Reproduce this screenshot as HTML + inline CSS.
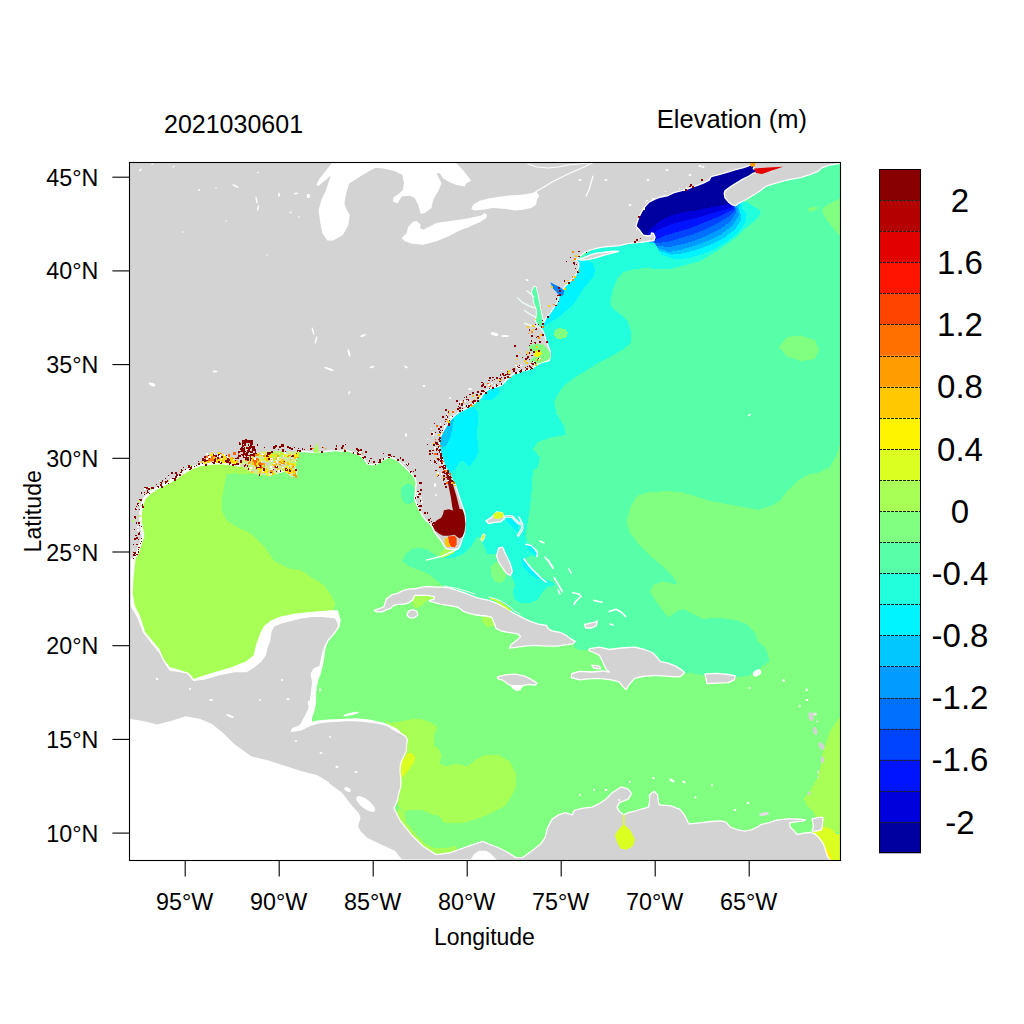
<!DOCTYPE html>
<html><head><meta charset="utf-8"><style>
html,body{margin:0;padding:0;background:#fff;width:1024px;height:1024px;overflow:hidden;font-family:"Liberation Sans",sans-serif;}
svg{display:block;}
</style></head><body>
<svg width="1024" height="1024" viewBox="0 0 1024 1024">
<defs><clipPath id="fr"><rect x="129" y="162" width="711" height="698"/></clipPath></defs>
<rect width="1024" height="1024" fill="#fff"/>
<g clip-path="url(#fr)" shape-rendering="crispEdges">
<rect x="129" y="162" width="711" height="698" fill="#56ffa8"/>
<polygon points="452.0,548.0 439.8,557.8 435.7,555.0 427.5,549.6 419.3,547.5 411.1,549.6 405.6,553.7 402.2,560.5 408.4,566.0 419.3,570.1 428.9,574.2 435.7,579.6 441.2,585.1 480.0,600.0 540.0,625.0 575.3,641.3 573.9,647.4 579.4,650.2 586.2,650.2 589.8,648.6 640.0,660.0 684.5,672.6 693.3,673.4 701.1,674.9 705.0,675.3 735.0,677.0 740.2,676.9 748.0,675.9 755.8,672.0 763.6,665.2 769.5,661.3 767.5,653.4 763.6,645.6 757.8,642.0 754.3,631.7 747.3,624.6 735.6,620.0 719.1,617.6 702.7,618.8 693.4,614.1 684.0,609.4 677.0,610.6 668.8,617.6 662.9,610.6 655.9,601.2 650.0,591.8 653.5,584.8 662.9,581.3 672.3,583.6 678.1,584.8 672.3,575.4 662.9,566.0 651.2,556.7 639.5,545.0 630.1,533.2 626.6,521.5 630.1,507.5 637.1,495.7 648.8,492.2 667.6,491.1 681.7,492.2 693.4,495.7 707.4,500.4 726.2,503.9 744.9,507.5 759.0,509.8 773.0,505.1 780.1,500.4 787.1,491.1 796.5,481.7 808.2,474.7 819.9,472.3 829.3,467.6 836.3,455.9 840.0,444.0 850.0,440.0 850.0,870.0 120.0,870.0 120.0,440.0 414.0,440.0 420.0,480.0 430.0,510.0 440.0,530.0" fill="#80ff80"/>
<polygon points="743.9,201.4 747.5,202.3 752.7,205.8 759.8,210.2 760.6,213.7 756.2,219.9 749.2,225.2 742.2,231.3 735.2,238.3 726.4,244.5 717.6,250.6 708.8,255.9 700.0,261.2 686.0,265.0 672.0,268.5 660.0,269.2 645.5,268.0 633.8,269.2 624.4,271.6 617.3,278.6 612.7,290.3 610.3,302.0 612.0,308.0 620.0,314.0 627.7,321.7 631.2,332.0 631.2,342.8 622.0,350.0 610.1,356.9 598.0,363.0 585.5,371.0 574.0,378.0 564.4,385.0 558.0,394.0 554.1,402.0 556.5,413.7 563.5,425.4 565.9,434.8 551.8,437.2 537.7,441.8 533.0,448.9 540.1,458.2 537.7,467.6 532.8,470.0 531.8,489.5 529.8,509.1 527.9,520.8 525.9,534.5 526.9,542.3 533.8,546.2 537.7,552.0 536.7,556.9 529.8,555.9 524.0,558.9 525.9,563.8 533.8,571.6 543.5,578.4 553.3,582.3 555.2,585.2 547.4,587.2 541.6,593.0 537.7,599.9 529.8,602.8 520.1,602.8 514.2,598.9 513.2,591.1 515.2,585.2 512.3,577.4 510.3,571.6 506.4,565.7 502.5,557.9 498.6,554.0 486.9,554.0 484.9,548.1 481.0,538.4 477.1,536.4 471.3,546.2 463.4,554.0 453.7,557.9 443.9,557.9 452.0,548.0 455.0,520.0 445.0,480.0 432.0,450.0 430.0,430.0 470.0,395.0 520.0,365.0 532.0,335.0 550.0,300.0 565.0,275.0 575.0,262.0 600.0,245.0 640.0,236.0 640.0,150.0 745.0,150.0" fill="#22ffdc"/>
<polygon points="120.0,445.0 258.0,445.0 258.0,474.0 249.0,474.0 234.5,473.4 226.3,474.0 225.1,481.0 222.8,492.7 221.6,504.5 222.8,513.8 227.4,520.9 234.5,525.5 241.5,529.1 249.0,532.6 253.2,535.6 264.9,547.3 274.3,561.4 288.4,568.4 302.4,570.7 311.8,577.8 323.5,584.8 330.5,594.2 335.2,603.5 332.9,610.6 330.0,614.0 300.0,640.0 260.0,680.0 120.0,700.0" fill="#a8ff56"/>
<polygon points="385.0,720.0 390.1,722.9 399.5,721.7 411.2,719.3 416.2,719.0 423.0,719.5 429.8,722.5 435.7,725.4 437.7,729.3 434.7,732.2 433.8,739.1 433.8,745.9 437.7,747.9 441.7,754.5 439.3,763.9 446.3,766.2 455.7,763.9 467.4,766.2 476.8,759.2 486.2,754.5 497.9,754.5 509.6,761.5 515.5,773.2 515.5,787.3 513.7,792.0 509.6,799.0 504.7,805.9 500.2,808.4 493.5,812.0 486.2,815.4 479.4,818.1 472.1,820.1 462.8,823.1 458.1,822.5 446.2,823.1 444.0,822.5 437.9,814.8 434.6,815.4 421.3,809.8 408.8,809.6 404.2,813.1 398.0,805.0 396.0,790.0 398.0,770.0 400.0,745.0" fill="#a8ff56"/>
<polygon points="398.0,808.0 404.2,813.1 406.5,822.5 415.9,834.2 425.2,843.5 434.6,848.2 446.3,848.2 455.7,845.9 458.0,852.0 440.0,860.0 420.0,852.0 405.0,838.0 396.0,820.0" fill="#a8ff56"/>
<polygon points="840.0,717.4 835.7,722.9 830.2,731.1 827.5,739.3 824.8,747.5 822.0,755.7 820.3,768.2 817.6,776.4 813.5,784.6 809.4,791.4 803.9,798.3 806.6,805.1 813.5,812.0 814.8,816.1 818.0,820.0 822.0,828.0 850.0,836.0 850.0,718.0" fill="#a8ff56"/>
<polygon points="414.5,595.4 434.3,596.7 434.3,598.8 427.5,600.2 422.0,605.6 416.6,608.4 413.8,607.0 412.5,601.5" fill="#a8ff56"/>
<polygon points="481.6,617.3 489.1,616.0 493.2,620.1 493.9,625.5 487.8,626.9 483.0,622.8" fill="#a8ff56"/>
<polygon points="445.0,548.0 452.0,549.0 458.0,549.0 452.0,554.0 446.0,557.0 441.0,558.0 440.0,554.0" fill="#a8ff56"/>
<polygon points="407.4,752.7 413.2,753.7 415.2,757.6 413.2,763.5 408.4,770.3 403.5,776.2 400.5,778.1 400.5,768.4 402.5,760.5" fill="#dcff22"/>
<polygon points="810.7,833.8 817.6,829.7 823.1,827.0 829.9,828.4 836.7,833.8 850.0,837.0 850.0,870.0 829.9,870.0 825.8,850.2 823.1,843.4 816.2,836.6" fill="#dcff22"/>
<polygon points="824.4,847.5 828.5,850.2 831.3,855.7 832.6,862.0 827.2,862.0 825.1,854.3" fill="#fff400"/>
<polygon points="401.5,488.0 406.0,483.5 411.0,483.5 414.0,488.0 414.0,500.0 412.0,503.0 407.0,504.0 403.0,502.0 401.0,495.0" fill="#56ffa8"/>
<polygon points="555.0,329.2 559.7,328.0 565.5,329.2 567.9,332.7 566.7,337.4 562.0,338.6 557.3,339.2 554.4,336.3 554.4,332.7" fill="#80ff80"/>
<polygon points="490.8,565.7 496.6,561.8 502.5,563.8 506.4,571.6 505.4,579.4 500.5,583.3 494.7,581.3 490.8,573.5" fill="#80ff80"/>
<polygon points="839.3,198.7 828.7,203.9 821.7,209.2 825.2,218.0 832.3,226.8 837.5,233.8 841.0,236.0 841.0,198.0" fill="#80ff80"/>
<polygon points="808.0,208.0 814.0,206.5 820.0,207.0 815.0,210.5 809.0,212.0" fill="#80ff80"/>
<polygon points="779.0,347.0 787.0,337.0 801.0,335.4 815.0,340.0 819.0,349.5 815.0,359.0 801.0,361.0 787.0,356.5" fill="#80ff80"/>
<polygon points="576.0,259.0 578.7,259.8 586.9,261.0 592.7,263.4 595.1,269.2 593.9,276.3 589.5,281.5 583.4,288.0 579.6,295.2 573.8,303.4 566.7,310.5 559.7,316.3 552.7,321.0 545.6,325.7 543.3,326.9 535.0,310.0 560.0,280.0" fill="#00f4ff"/>
<polygon points="454.0,416.3 466.9,409.3 473.9,407.0 477.4,410.5 478.6,417.5 477.4,426.9 477.4,438.6 478.6,450.3 476.3,457.3 469.2,466.7 463.4,460.9 459.8,462.0 455.2,469.1 449.3,473.8 440.0,470.0 435.0,440.0 445.0,420.0" fill="#00f4ff"/>
<polygon points="482.0,400.0 484.7,392.5 489.4,389.0 495.2,386.6 498.8,387.8 498.5,394.0 494.0,398.0 490.0,400.5" fill="#00f4ff"/>
<polygon points="504.5,516.9 514.2,518.8 518.1,524.7 518.1,532.5 512.3,526.6 506.4,520.8" fill="#00f4ff"/>
<polygon points="525.9,544.2 533.8,546.2 537.7,552.0 536.7,555.9 531.8,552.0 527.9,548.1" fill="#00f4ff"/>
<polygon points="521.1,557.9 525.9,559.8 531.8,567.7 537.7,573.5 543.5,579.4 537.7,579.4 529.8,573.5 524.0,567.7" fill="#00f4ff"/>
<polygon points="454.0,418.7 452.8,426.9 450.5,436.3 447.0,444.5 442.3,448.0 439.9,442.1 441.1,433.9 444.6,426.9 449.3,421.0" fill="#00c8ff"/>
<polygon points="655.0,244.0 661.6,254.6 674.3,259.0 688.2,258.4 700.9,254.6 713.6,249.5 726.3,241.9 737.8,233.0 745.4,222.9 746.6,214.0 741.6,207.6 742.0,199.0 750.0,186.0 762.0,176.0 772.0,172.5 775.0,171.0 775.0,150.0 630.0,150.0 630.0,236.0 645.0,242.0" fill="#00f4ff"/>
<polygon points="654.5,243.0 659.0,250.8 671.7,254.6 684.4,253.3 697.1,249.5 711.1,244.4 723.8,238.1 735.2,229.2 741.6,219.0 739.0,207.6 742.0,199.0 750.0,186.0 762.0,176.0 772.0,172.5 775.0,171.0 775.0,150.0 630.0,150.0 630.0,236.0 645.0,242.0" fill="#00c8ff"/>
<polygon points="654.0,242.0 657.8,248.2 669.2,252.1 681.9,249.5 694.6,245.7 708.6,240.6 721.2,234.3 732.7,225.4 739.0,215.2 737.0,206.0 742.0,199.0 750.0,186.0 762.0,176.0 772.0,172.5 775.0,171.0 775.0,150.0 630.0,150.0 630.0,236.0 645.0,242.0" fill="#009cff"/>
<polygon points="653.5,241.5 656.5,245.7 669.2,247.0 681.9,244.4 694.6,240.6 707.3,235.5 720.0,229.2 730.1,221.6 736.5,212.7 735.0,205.5 742.0,199.0 750.0,186.0 762.0,176.0 772.0,172.5 775.0,171.0 775.0,150.0 630.0,150.0 630.0,236.0 645.0,242.0" fill="#0070ff"/>
<polygon points="653.0,240.5 655.2,243.2 667.9,241.9 680.6,238.1 693.3,234.3 706.0,229.2 718.7,222.9 728.9,216.5 735.2,210.2 734.0,205.0 742.0,199.0 750.0,186.0 762.0,176.0 772.0,172.5 775.0,171.0 775.0,150.0 630.0,150.0 630.0,236.0 645.0,242.0" fill="#0044ff"/>
<polygon points="652.5,239.0 654.0,240.6 665.4,235.5 678.1,231.7 690.8,227.9 703.5,222.9 716.2,217.8 726.3,212.7 733.9,208.9 733.0,204.5 742.0,199.0 750.0,186.0 762.0,176.0 772.0,172.5 775.0,171.0 775.0,150.0 630.0,150.0 630.0,236.0 645.0,242.0" fill="#0014ff"/>
<polygon points="651.4,235.5 659.0,229.2 671.7,224.1 684.4,220.9 697.1,217.8 709.8,214.0 722.5,210.2 731.4,207.6 732.0,204.0 742.0,199.0 750.0,186.0 762.0,176.0 772.0,172.5 775.0,171.0 775.0,150.0 630.0,150.0 630.0,236.0 645.0,242.0" fill="#0000dc"/>
<polygon points="648.9,230.5 659.0,221.6 671.7,215.2 684.4,212.1 697.1,210.2 709.8,207.6 722.5,205.1 730.1,203.8 742.0,199.0 750.0,186.0 762.0,176.0 772.0,172.5 775.0,171.0 775.0,150.0 630.0,150.0 630.0,236.0 645.0,242.0" fill="#0000a0"/>
</g>
<g clip-path="url(#fr)">
<polygon points="120.0,719.3 129.0,719.3 143.1,721.7 157.1,725.2 171.2,721.7 185.2,717.0 199.3,719.3 211.0,724.0 222.7,733.4 234.5,745.1 250.9,756.8 269.6,761.5 283.7,766.2 302.4,772.1 316.5,775.6 328.2,782.6 330.0,784.9 341.6,793.2 351.6,806.5 358.2,813.1 359.9,818.1 357.4,826.4 359.9,831.4 366.5,838.0 379.8,844.7 394.7,851.3 401.4,860.0 471.1,860.0 474.4,854.6 479.4,851.3 486.0,851.3 491.0,854.6 496.0,860.0 496.0,870.0 120.0,870.0" fill="#fff"/>
<polygon points="136.0,556.0 134.9,564.6 133.4,579.3 132.7,593.9 134.9,605.7 140.7,617.4 145.1,632.0 152.4,640.8 159.8,649.6 162.7,658.4 170.0,667.2 180.3,670.1 190.5,674.5 193.5,678.9 202.2,676.0 216.9,671.6 231.5,667.2 246.2,661.3 253.5,655.5 256.4,643.7 260.8,632.0 264.1,626.0 270.9,620.5 280.5,616.4 294.2,613.7 307.9,612.3 321.5,610.9 332.5,610.3 337.9,610.3 340.7,620.5 339.3,627.3 333.8,634.2 328.4,641.0 325.6,647.9 324.3,657.4 322.9,665.6 320.2,675.2 317.4,682.0 316.1,690.2 316.1,701.2 314.7,709.4 312.0,717.6 312.0,721.7 318.8,720.3 328.4,719.6 342.0,719.0 355.7,718.3 369.4,719.6 383.0,722.4 388.5,724.4 396.7,728.5 400.0,731.3 400.0,760.0 120.0,760.0 120.0,556.0" fill="#fff"/>
<polygon points="120.0,150.0 754.9,150.0 754.9,162.1 753.2,163.5 747.9,166.2 742.6,167.9 735.6,169.7 726.8,172.3 718.0,174.9 711.0,176.7 709.1,180.1 703.2,183.1 697.4,185.3 691.5,187.5 685.7,189.6 679.8,191.1 673.9,192.6 668.1,195.5 660.8,197.0 654.9,199.2 649.0,202.1 644.6,207.2 641.7,211.6 638.8,217.5 637.3,221.9 635.9,226.3 638.8,229.2 643.2,235.1 648.0,236.0 651.0,235.5 651.5,233.0 653.5,233.5 655.0,237.0 654.0,240.5 650.0,241.0 645.5,241.7 640.8,242.3 633.8,242.9 629.1,243.4 624.4,244.4 619.8,245.6 613.9,246.2 608.1,246.5 602.2,247.1 596.4,248.3 590.5,250.0 584.6,252.4 580.0,255.9 577.5,258.5 576.3,260.4 578.7,262.2 578.7,266.9 577.5,271.6 575.2,276.3 571.6,279.8 568.1,283.3 564.6,286.8 562.3,290.3 560.5,292.7 558.8,297.3 557.6,302.0 555.0,305.8 550.3,312.8 545.6,318.7 543.3,323.4 542.1,326.9 540.9,328.0 543.3,331.6 545.6,338.6 548.0,345.6 550.3,351.5 550.3,357.3 549.1,360.9 543.3,362.0 537.4,364.4 532.7,367.9 526.9,370.2 519.8,371.4 514.0,373.8 509.3,377.3 504.6,382.0 501.1,385.5 497.6,386.6 491.7,387.8 487.0,390.2 483.5,393.7 481.2,397.2 478.6,399.9 472.7,404.6 466.9,408.1 459.8,411.6 454.0,416.3 449.3,421.0 445.8,426.9 442.3,432.7 439.9,438.6 439.3,444.5 439.9,450.3 441.7,456.2 443.4,462.0 445.8,467.9 449.3,473.8 452.8,480.8 455.7,485.9 458.6,494.6 461.5,503.4 464.5,512.2 465.4,519.1 464.9,526.9 464.5,532.7 462.5,538.6 460.5,544.5 458.6,548.4 454.7,549.3 448.8,549.3 445.9,548.4 443.9,545.4 441.0,540.5 437.1,535.7 434.2,531.8 432.2,526.9 429.3,523.0 426.4,521.0 423.4,517.1 420.5,512.2 417.6,506.4 415.6,501.5 414.6,497.6 415.6,492.7 415.6,487.8 416.2,483.5 415.2,478.6 412.3,474.7 408.4,470.8 404.5,466.9 400.5,463.0 396.6,460.0 392.7,458.1 388.8,457.1 384.9,459.1 381.0,461.0 377.1,463.9 372.2,464.9 367.3,463.9 365.4,461.0 362.5,457.1 357.6,454.2 351.7,452.2 345.9,450.3 340.0,451.3 336.7,450.4 325.9,451.5 315.2,452.6 304.5,451.5 298.0,451.5 298.0,453.6 295.9,460.1 293.7,465.5 296.9,470.8 295.9,475.1 291.6,476.2 285.1,470.8 277.6,473.0 267.9,475.1 259.3,472.0 255.0,467.0 249.0,465.0 240.0,465.5 234.5,464.6 222.8,462.9 211.0,463.4 201.7,464.6 193.5,467.0 185.3,471.6 178.2,476.3 171.2,481.0 164.2,484.5 157.1,488.0 150.1,492.7 144.2,498.6 141.9,505.6 140.7,512.7 140.7,522.0 141.9,529.1 143.1,536.1 140.7,543.1 138.4,550.2 136.0,556.0 131.2,560.0 131.2,579.3 131.2,605.7 137.8,617.4 143.6,632.0 152.4,643.7 159.8,652.5 164.2,661.3 170.0,670.1 180.3,671.6 187.6,673.0 193.5,680.4 205.2,678.9 219.8,674.5 234.5,671.6 246.2,671.6 253.5,667.2 260.8,661.3 265.5,654.7 266.8,647.9 269.6,641.0 270.9,631.4 273.7,626.0 280.5,623.2 290.1,620.5 301.0,617.8 312.0,616.4 321.5,616.4 329.7,617.1 335.2,617.8 337.9,621.9 338.6,626.0 336.6,630.1 332.5,635.5 328.4,639.6 325.6,645.1 322.9,652.0 321.5,658.8 320.2,665.6 318.8,672.5 317.4,680.7 316.1,687.5 314.7,695.7 313.3,703.9 312.0,712.1 307.9,717.6 303.8,721.7 299.6,725.8 292.8,728.5 291.4,731.3 301.0,729.9 309.2,725.8 317.4,723.1 328.4,721.7 339.3,721.0 348.9,720.3 362.5,721.0 374.2,722.5 383.9,724.4 388.8,726.4 394.7,730.3 400.5,733.2 405.4,736.1 407.4,740.0 406.4,744.9 406.4,750.8 404.5,754.7 402.5,758.6 400.5,764.5 400.0,770.3 400.5,776.2 401.0,782.0 400.5,787.9 398.6,793.8 397.6,800.0 393.9,808.1 399.7,819.8 411.3,834.7 423.0,846.3 436.2,854.6 449.5,853.0 467.8,846.3 482.7,841.3 489.0,844.1 498.0,847.5 507.0,852.0 515.9,857.6 522.7,857.6 531.7,850.9 540.6,844.1 545.1,837.4 547.4,828.4 551.9,819.4 558.6,814.9 565.4,812.7 572.1,814.9 574.3,810.4 583.3,808.2 592.3,807.1 599.0,803.7 605.8,799.2 612.5,792.5 621.5,786.8 628.2,789.1 631.6,793.6 628.2,799.2 619.3,802.6 617.0,807.1 619.3,811.6 623.8,814.9 628.2,812.7 637.2,810.4 648.5,807.1 649.6,801.4 649.6,794.7 654.1,791.3 657.5,794.7 658.6,803.7 659.7,804.8 670.9,805.9 679.9,809.3 684.4,814.9 688.9,823.9 700.1,822.8 710.9,821.5 720.5,820.8 726.0,822.2 730.1,827.0 736.9,829.7 745.1,831.1 752.0,829.7 757.4,827.0 761.5,824.3 768.4,822.9 776.6,820.2 787.5,818.8 795.7,818.8 805.3,819.7 803.9,820.8 795.7,821.8 789.6,822.9 790.2,827.0 794.3,831.1 797.1,834.5 803.9,833.1 810.7,832.5 814.8,833.8 819.0,837.9 823.1,843.4 825.1,848.9 827.2,855.7 829.9,860.0 830.0,870.0 496.0,870.0 496.0,860.0 491.0,854.6 486.0,851.3 479.4,851.3 474.4,854.6 471.1,860.0 401.4,860.0 394.7,851.3 379.8,844.7 366.5,838.0 359.9,831.4 357.4,826.4 359.9,818.1 358.2,813.1 351.6,806.5 341.6,793.2 330.0,784.9 328.2,782.6 316.5,775.6 302.4,772.1 283.7,766.2 269.6,761.5 250.9,756.8 234.5,745.1 222.7,733.4 211.0,724.0 199.3,719.3 185.2,717.0 171.2,721.7 157.1,725.2 143.1,721.7 129.0,719.3 120.0,719.3" fill="#d3d3d3" stroke="#fff" stroke-width="1.3" stroke-linejoin="round"/>
<polygon points="755.8,150.0 850.0,150.0 850.0,163.5 838.4,163.5 828.7,165.3 821.7,167.9 818.2,171.4 811.2,174.1 800.6,177.6 790.1,179.3 783.0,181.1 774.3,183.7 765.5,186.4 760.2,190.8 753.2,195.2 746.1,199.5 739.1,203.1 735.6,205.7 732.1,204.8 728.6,202.2 725.0,197.8 724.2,193.4 725.0,190.8 728.6,188.1 733.8,184.6 740.9,180.2 747.9,176.7 753.2,173.2 758.4,172.3 765.5,171.4 772.5,170.9 765.5,170.2 758.4,169.7 753.2,168.8 754.9,165.3 755.8,162.1" fill="#d3d3d3" stroke="#fff" stroke-width="1.3" stroke-linejoin="round"/>
<polygon points="578.8,259.6 584.6,257.3 590.5,254.9 596.4,253.2 602.2,252.6 606.3,252.0 611.0,251.4 615.7,251.1 618.6,251.4 614.5,252.6 609.8,253.7 605.1,254.9 599.3,256.7 593.4,258.4 587.6,259.6 581.7,260.2" fill="#d3d3d3" stroke="#fff" stroke-width="1.3" stroke-linejoin="round"/>
<polygon points="374.2,610.4 379.6,608.4 383.8,607.0 385.1,602.9 386.5,598.8 392.0,594.7 397.4,593.3 402.9,590.6 408.4,589.2 416.6,588.5 422.0,587.2 428.9,586.5 435.7,587.2 441.2,587.2 449.4,587.9 457.6,590.6 465.8,593.3 472.6,596.1 478.2,598.2 489.1,600.3 497.3,603.7 505.5,607.8 513.8,613.2 522.0,617.3 530.2,621.4 538.4,624.2 546.6,625.5 547.9,628.3 552.0,631.0 560.2,632.4 565.7,635.1 571.2,639.2 575.3,641.3 572.5,644.0 565.7,644.7 557.5,646.1 546.6,646.1 535.6,645.4 524.7,646.1 515.1,647.4 509.6,648.1 511.0,644.7 516.5,640.6 520.6,636.5 517.9,633.8 508.3,632.4 501.4,631.0 496.0,628.3 493.9,622.8 491.9,617.3 486.4,616.0 480.0,615.5 474.0,614.5 468.5,613.1 463.0,611.1 457.6,607.0 449.4,605.6 441.2,604.3 435.7,602.9 428.9,600.8 434.3,598.8 434.3,596.7 427.5,595.4 419.3,595.4 414.5,595.4 412.5,600.2 408.4,602.9 402.9,604.3 397.4,604.3 393.3,605.6 390.6,608.4 386.5,609.7 382.4,611.8 376.9,611.8" fill="#d3d3d3" stroke="#fff" stroke-width="1.3" stroke-linejoin="round"/>
<polygon points="408.4,611.1 412.5,609.7 416.6,611.1 417.9,615.2 413.8,617.9 409.7,617.9 407.0,615.2" fill="#d3d3d3" stroke="#fff" stroke-width="1.3" stroke-linejoin="round"/>
<polygon points="589.8,648.6 599.5,647.2 609.3,649.5 621.0,648.0 634.7,647.2 644.5,649.5 652.3,652.5 657.1,657.3 660.1,661.3 667.9,663.2 675.7,666.1 681.6,670.0 684.5,672.6 680.6,676.5 675.7,676.9 665.9,676.1 654.2,675.3 642.5,676.5 634.7,678.4 629.8,683.7 625.9,689.6 623.0,686.6 619.1,681.8 611.3,679.8 599.5,678.4 587.8,678.8 580.0,679.8 571.2,677.5 572.0,673.5 579.4,671.4 591.7,672.0 603.4,671.0 609.3,672.0 605.4,668.1 602.5,661.3 599.5,655.4 593.7,652.5 588.8,650.5" fill="#d3d3d3" stroke="#fff" stroke-width="1.3" stroke-linejoin="round"/>
<polygon points="591.7,665.2 599.5,666.1 600.5,669.1 593.7,668.1" fill="#d3d3d3" stroke="#fff" stroke-width="1.3" stroke-linejoin="round"/>
<polygon points="497.3,676.8 505.5,674.8 515.1,674.1 524.7,676.1 531.5,679.6 537.0,683.0 535.6,685.0 527.4,684.3 523.3,685.7 519.0,687.0 514.0,686.5 508.3,684.3 502.8,680.2 498.0,678.9" fill="#d3d3d3" stroke="#fff" stroke-width="1.3" stroke-linejoin="round"/>
<polygon points="705.0,673.9 716.7,673.4 728.4,674.5 735.3,675.9 734.3,679.8 728.4,682.7 716.7,683.1 707.0,683.7 706.0,678.8" fill="#d3d3d3" stroke="#fff" stroke-width="1.3" stroke-linejoin="round"/>
<polygon points="812.1,818.8 819.0,817.4 823.1,817.4 822.4,824.3 821.7,829.7 816.2,831.1 812.1,831.1 813.5,825.6" fill="#d3d3d3" stroke="#fff" stroke-width="1.3" stroke-linejoin="round"/>
<polygon points="498.6,548.1 502.5,547.1 506.4,555.9 510.3,563.8 512.3,571.6 510.3,575.5 506.4,573.5 502.5,567.7 498.6,561.8 496.6,555.9" fill="#d3d3d3" stroke="#fff" stroke-width="1.3" stroke-linejoin="round"/>
<polygon points="485.9,520.8 490.8,517.9 496.6,512.0 502.5,513.0 504.5,518.8 500.5,521.8 492.7,522.7 488.8,523.7" fill="#d3d3d3" stroke="#fff" stroke-width="1.3" stroke-linejoin="round"/>
<polygon points="584.5,624.5 589.2,623.3 595.1,622.1 597.4,620.9 596.3,625.6 591.6,628.0 585.7,628.0" fill="#d3d3d3" stroke="#fff" stroke-width="1.3" stroke-linejoin="round"/>
<polygon points="510.0,685.0 524.0,685.0 520.0,690.5 516.0,691.0 512.0,688.0" fill="#fff"/>
<polyline points="525.9,544.2 531.0,545.5 535.0,549.0 537.5,553.0 537.0,556.5" fill="none" stroke="#fff" stroke-width="1.6" stroke-linejoin="round" stroke-linecap="round"/>
<polyline points="524.0,559.0 527.0,563.0 531.0,568.0 536.0,573.0 541.0,578.0 546.0,582.0" fill="none" stroke="#fff" stroke-width="1.6" stroke-linejoin="round" stroke-linecap="round"/>
<polyline points="545.0,557.0 549.0,562.0 553.0,568.0" fill="none" stroke="#fff" stroke-width="1.6" stroke-linejoin="round" stroke-linecap="round"/>
<polyline points="554.1,577.6 558.0,584.0 562.3,591.6" fill="none" stroke="#fff" stroke-width="1.6" stroke-linejoin="round" stroke-linecap="round"/>
<polyline points="572.8,592.8 579.0,594.0 581.0,596.5 576.0,601.0 574.0,604.5" fill="none" stroke="#fff" stroke-width="1.6" stroke-linejoin="round" stroke-linecap="round"/>
<polyline points="593.9,600.4 602.1,602.2" fill="none" stroke="#fff" stroke-width="1.6" stroke-linejoin="round" stroke-linecap="round"/>
<polyline points="609.1,611.6 616.2,609.2 622.0,612.7 625.5,616.5" fill="none" stroke="#fff" stroke-width="1.6" stroke-linejoin="round" stroke-linecap="round"/>
<polyline points="548.2,560.0 552.9,568.2" fill="none" stroke="#fff" stroke-width="1.6" stroke-linejoin="round" stroke-linecap="round"/>
<polyline points="558.0,590.0 560.0,594.0" fill="none" stroke="#fff" stroke-width="1.6" stroke-linejoin="round" stroke-linecap="round"/>
<polyline points="610.0,624.0 613.0,625.0" fill="none" stroke="#fff" stroke-width="1.6" stroke-linejoin="round" stroke-linecap="round"/>
<polyline points="519.0,517.0 522.0,523.0" fill="none" stroke="#fff" stroke-width="1.6" stroke-linejoin="round" stroke-linecap="round"/>
<polyline points="540.0,541.0 544.0,543.0" fill="none" stroke="#fff" stroke-width="1.6" stroke-linejoin="round" stroke-linecap="round"/>
<polyline points="569.0,569.0 571.0,573.0" fill="none" stroke="#fff" stroke-width="1.6" stroke-linejoin="round" stroke-linecap="round"/>
<polygon points="331.9,160.0 331.9,163.1 319.4,178.8 316.3,185.0 318.6,185.8 327.2,178.8 331.0,175.0 325.6,191.3 321.7,199.1 318.6,210.0 320.2,222.5 322.5,233.4 327.2,240.5 333.4,240.5 342.8,235.0 348.3,225.6 349.8,214.7 346.7,210.0 344.4,203.8 345.9,194.4 349.1,183.4 356.9,178.8 361.6,175.6 369.4,170.9 375.6,167.8 383.4,168.6 394.4,170.9 402.2,174.8 403.8,181.9 403.0,189.7 399.1,193.6 393.6,197.5 392.8,201.4 397.5,203.4 401.6,196.5 409.9,195.7 414.9,198.2 418.2,204.8 420.7,213.9 424.9,213.1 431.5,208.1 433.2,199.8 438.1,191.5 441.5,183.2 436.5,173.3 439.8,173.3 443.1,178.3 448.1,181.6 456.4,184.9 464.7,186.6 466.4,183.2 471.3,180.8 468.0,176.6 463.0,170.0 456.4,163.3 456.4,160.0" fill="#fff"/>
<polygon points="401.6,238.0 406.6,233.0 408.3,226.4 413.2,221.4 416.6,221.1 420.7,224.7 419.9,228.1 423.2,229.7 436.5,223.1 446.4,221.4 459.7,219.8 469.7,218.1 481.3,215.6 484.6,213.1 487.1,214.8 486.3,218.1 479.6,222.3 469.7,226.4 459.7,230.6 448.1,236.4 436.5,241.3 423.2,244.7 411.6,243.8 404.9,241.3" fill="#fff"/>
<polygon points="471.3,209.0 473.0,204.8 479.6,200.7 489.6,198.2 506.2,195.7 519.5,194.9 531.1,193.2 536.1,191.5 539.4,195.7 536.9,199.8 536.1,204.8 531.1,208.1 522.8,209.8 514.5,210.6 506.2,209.0 492.9,208.1 483.0,209.8 474.7,210.6" fill="#fff"/>
<polygon points="320.2,665.6 313.3,668.4 310.6,673.8 312.0,682.0 310.6,695.7 307.9,709.4 302.4,720.3 299.6,725.8 305.0,726.0 312.0,721.7 312.0,717.6 314.7,709.4 316.1,701.2 316.1,690.2 317.4,682.0 318.8,675.0" fill="#fff"/>
<ellipse cx="365.7" cy="804.0" rx="11.5" ry="4.6" transform="rotate(38 365.7 804.0)" fill="#fff"/>
<ellipse cx="347.5" cy="789.5" rx="3.5" ry="2.0" transform="rotate(30 347.5 789.5)" fill="#fff"/>
<ellipse cx="157.0" cy="679.0" rx="1.6" ry="1.0" transform="rotate(40 157.0 679.0)" fill="#fff"/>
<ellipse cx="211.0" cy="700.0" rx="2.0" ry="1.0" transform="rotate(10 211.0 700.0)" fill="#fff"/>
<ellipse cx="230.0" cy="716.0" rx="4.0" ry="1.2" transform="rotate(25 230.0 716.0)" fill="#fff"/>
<ellipse cx="190.0" cy="689.0" rx="1.2" ry="1.0" transform="rotate(0 190.0 689.0)" fill="#fff"/>
<ellipse cx="288.0" cy="699.0" rx="1.5" ry="1.0" transform="rotate(0 288.0 699.0)" fill="#fff"/>
<ellipse cx="282.0" cy="680.0" rx="1.2" ry="1.0" transform="rotate(0 282.0 680.0)" fill="#fff"/>
<ellipse cx="260.0" cy="700.0" rx="1.0" ry="1.0" transform="rotate(0 260.0 700.0)" fill="#fff"/>
<ellipse cx="296.0" cy="741.0" rx="1.2" ry="1.0" transform="rotate(0 296.0 741.0)" fill="#fff"/>
<ellipse cx="321.0" cy="753.0" rx="1.5" ry="1.0" transform="rotate(0 321.0 753.0)" fill="#fff"/>
<ellipse cx="330.0" cy="737.0" rx="1.0" ry="1.0" transform="rotate(0 330.0 737.0)" fill="#fff"/>
<ellipse cx="337.0" cy="767.0" rx="1.5" ry="1.2" transform="rotate(0 337.0 767.0)" fill="#fff"/>
<ellipse cx="356.0" cy="772.0" rx="1.5" ry="1.0" transform="rotate(0 356.0 772.0)" fill="#fff"/>
<ellipse cx="351.0" cy="714.0" rx="8.0" ry="1.4" transform="rotate(-12 351.0 714.0)" fill="#fff"/>
<ellipse cx="309.0" cy="703.0" rx="1.2" ry="2.5" transform="rotate(0 309.0 703.0)" fill="#fff"/>
<ellipse cx="320.0" cy="690.0" rx="1.0" ry="1.5" transform="rotate(0 320.0 690.0)" fill="#fff"/>
<ellipse cx="140.5" cy="170.0" rx="1.8" ry="0.8" transform="rotate(-30 140.5 170.0)" fill="#fff"/>
<ellipse cx="152.4" cy="164.3" rx="1.5" ry="0.6" transform="rotate(-30 152.4 164.3)" fill="#fff"/>
<ellipse cx="173.5" cy="166.7" rx="1.5" ry="0.6" transform="rotate(-30 173.5 166.7)" fill="#fff"/>
<ellipse cx="199.3" cy="190.1" rx="1.0" ry="1.0" transform="rotate(0 199.3 190.1)" fill="#fff"/>
<ellipse cx="235.5" cy="186.0" rx="3.5" ry="0.8" transform="rotate(25 235.5 186.0)" fill="#fff"/>
<ellipse cx="256.5" cy="200.0" rx="0.8" ry="3.5" transform="rotate(-10 256.5 200.0)" fill="#fff"/>
<ellipse cx="258.0" cy="208.0" rx="0.8" ry="3.0" transform="rotate(15 258.0 208.0)" fill="#fff"/>
<ellipse cx="279.0" cy="194.8" rx="0.9" ry="2.2" transform="rotate(0 279.0 194.8)" fill="#fff"/>
<ellipse cx="296.0" cy="193.5" rx="2.5" ry="0.7" transform="rotate(-10 296.0 193.5)" fill="#fff"/>
<ellipse cx="308.3" cy="196.0" rx="1.6" ry="2.2" transform="rotate(0 308.3 196.0)" fill="#fff"/>
<ellipse cx="290.7" cy="212.4" rx="1.0" ry="0.8" transform="rotate(0 290.7 212.4)" fill="#fff"/>
<ellipse cx="298.9" cy="217.0" rx="1.0" ry="0.8" transform="rotate(0 298.9 217.0)" fill="#fff"/>
<ellipse cx="257.9" cy="172.5" rx="1.0" ry="0.8" transform="rotate(0 257.9 172.5)" fill="#fff"/>
<ellipse cx="215.0" cy="371.5" rx="2.5" ry="0.9" transform="rotate(0 215.0 371.5)" fill="#fff"/>
<ellipse cx="152.0" cy="384.5" rx="3.5" ry="1.5" transform="rotate(20 152.0 384.5)" fill="#fff"/>
<ellipse cx="363.0" cy="335.5" rx="3.0" ry="1.0" transform="rotate(-20 363.0 335.5)" fill="#fff"/>
<ellipse cx="349.3" cy="392.8" rx="0.8" ry="1.8" transform="rotate(20 349.3 392.8)" fill="#fff"/>
<ellipse cx="313.0" cy="331.0" rx="0.8" ry="4.0" transform="rotate(-15 313.0 331.0)" fill="#fff"/>
<ellipse cx="316.0" cy="340.0" rx="0.8" ry="4.0" transform="rotate(15 316.0 340.0)" fill="#fff"/>
<ellipse cx="329.0" cy="369.0" rx="5.0" ry="1.0" transform="rotate(20 329.0 369.0)" fill="#fff"/>
<ellipse cx="216.0" cy="188.0" rx="0.8" ry="0.8" transform="rotate(0 216.0 188.0)" fill="#fff"/>
<ellipse cx="226.0" cy="221.0" rx="0.8" ry="0.8" transform="rotate(0 226.0 221.0)" fill="#fff"/>
<ellipse cx="267.0" cy="255.0" rx="0.8" ry="0.8" transform="rotate(0 267.0 255.0)" fill="#fff"/>
<ellipse cx="183.0" cy="232.0" rx="0.8" ry="0.8" transform="rotate(0 183.0 232.0)" fill="#fff"/>
<ellipse cx="349.0" cy="353.0" rx="1.0" ry="4.0" transform="rotate(-15 349.0 353.0)" fill="#fff"/>
<ellipse cx="749.5" cy="415.0" rx="1.8" ry="0.8" transform="rotate(-30 749.5 415.0)" fill="#fff"/>
<ellipse cx="372.0" cy="367.0" rx="2.5" ry="1.0" transform="rotate(-20 372.0 367.0)" fill="#fff"/>
<ellipse cx="406.0" cy="367.0" rx="2.0" ry="1.0" transform="rotate(30 406.0 367.0)" fill="#fff"/>
<ellipse cx="424.0" cy="386.0" rx="1.5" ry="1.0" transform="rotate(0 424.0 386.0)" fill="#fff"/>
<ellipse cx="470.0" cy="389.0" rx="2.0" ry="1.0" transform="rotate(0 470.0 389.0)" fill="#fff"/>
<ellipse cx="450.0" cy="398.0" rx="1.0" ry="1.0" transform="rotate(0 450.0 398.0)" fill="#fff"/>
<ellipse cx="433.0" cy="434.0" rx="1.5" ry="2.0" transform="rotate(0 433.0 434.0)" fill="#fff"/>
<ellipse cx="435.0" cy="485.0" rx="1.2" ry="2.0" transform="rotate(0 435.0 485.0)" fill="#fff"/>
<ellipse cx="436.0" cy="495.0" rx="1.0" ry="1.0" transform="rotate(0 436.0 495.0)" fill="#fff"/>
<ellipse cx="406.0" cy="435.0" rx="1.0" ry="2.0" transform="rotate(0 406.0 435.0)" fill="#fff"/>
<ellipse cx="494.5" cy="334.0" rx="4.0" ry="1.6" transform="rotate(15 494.5 334.0)" fill="#fff"/>
<ellipse cx="505.0" cy="336.0" rx="4.0" ry="1.0" transform="rotate(0 505.0 336.0)" fill="#fff"/>
<ellipse cx="527.0" cy="280.0" rx="1.5" ry="1.0" transform="rotate(30 527.0 280.0)" fill="#fff"/>
<ellipse cx="467.0" cy="227.0" rx="1.5" ry="1.0" transform="rotate(0 467.0 227.0)" fill="#fff"/>
<ellipse cx="580.0" cy="180.0" rx="1.5" ry="1.0" transform="rotate(0 580.0 180.0)" fill="#fff"/>
<ellipse cx="606.0" cy="180.0" rx="1.5" ry="1.0" transform="rotate(0 606.0 180.0)" fill="#fff"/>
<ellipse cx="630.0" cy="205.0" rx="1.5" ry="1.0" transform="rotate(0 630.0 205.0)" fill="#fff"/>
<ellipse cx="648.0" cy="180.0" rx="1.5" ry="1.0" transform="rotate(0 648.0 180.0)" fill="#fff"/>
<ellipse cx="667.0" cy="170.0" rx="1.5" ry="1.0" transform="rotate(0 667.0 170.0)" fill="#fff"/>
<ellipse cx="690.0" cy="175.0" rx="1.5" ry="1.0" transform="rotate(0 690.0 175.0)" fill="#fff"/>
<ellipse cx="700.0" cy="166.0" rx="1.5" ry="1.0" transform="rotate(0 700.0 166.0)" fill="#fff"/>
<ellipse cx="703.0" cy="167.0" rx="1.5" ry="1.0" transform="rotate(0 703.0 167.0)" fill="#fff"/>
<polyline points="536.0,191.5 544.0,187.0 552.0,182.0 560.0,178.0 568.0,174.0 576.0,170.5 584.0,167.0 590.0,164.0 595.0,162.0" fill="none" stroke="#fff" stroke-width="1.2" stroke-linejoin="round" stroke-linecap="round"/>
<polyline points="528.0,164.0 537.0,167.0 548.0,168.0 558.0,167.0 568.0,165.0 578.0,164.0 590.0,163.0" fill="none" stroke="#fff" stroke-width="1.2" stroke-linejoin="round" stroke-linecap="round"/>
<polyline points="593.0,176.0 591.0,183.0 589.0,190.0 586.0,196.0" fill="none" stroke="#fff" stroke-width="1.2" stroke-linejoin="round" stroke-linecap="round"/>
<polyline points="136.0,556.0 138.4,550.2 140.7,543.1 143.1,536.1 141.9,529.1 140.7,522.0 140.7,512.7 141.9,505.6 144.2,498.6 150.1,492.7 157.1,488.0 164.2,484.5 171.2,481.0 178.2,476.3 185.3,471.6 193.5,467.0 201.7,464.6 211.0,463.4 222.8,462.9 234.5,464.6 240.0,465.5" fill="none" stroke="#fff" stroke-width="2.6" stroke-linejoin="round" stroke-linecap="round"/>
<polygon points="623.8,823.9 630.5,830.6 635.0,839.6 632.7,846.4 626.0,849.7 620.4,848.6 617.0,841.9 614.8,835.1 619.3,828.4" fill="#dcff22"/>
<polyline points="623.8,814.9 623.8,824.0" fill="none" stroke="#dcff22" stroke-width="1.5" stroke-linejoin="round" stroke-linecap="round"/>
<polygon points="493.0,514.0 497.0,512.0 503.0,512.5 503.5,517.0 499.0,519.0 494.0,518.5" fill="#dcff22"/>
<polyline points="505.5,516.5 511.9,516.5 518.2,522.9 522.1,524.1 522.1,529.2 518.2,535.5" fill="none" stroke="#fff" stroke-width="2.6" stroke-linejoin="round" stroke-linecap="round"/>
<polyline points="505.5,516.5 511.9,516.5 518.2,522.9 522.1,524.1 522.1,529.2 518.2,535.5" fill="none" stroke="#d3d3d3" stroke-width="1.0" stroke-linejoin="round" stroke-linecap="round"/>
<ellipse cx="483.0" cy="537.5" rx="1.6" ry="4.0" transform="rotate(20 483.0 537.5)" fill="#dcff22" stroke="#fff" stroke-width="0.8"/>
<polyline points="426.4,560.1 434.2,558.1 442.0,556.2 448.8,553.2 454.7,550.3 458.6,548.4" fill="none" stroke="#fff" stroke-width="1.4" stroke-linejoin="round" stroke-linecap="round"/>
<polyline points="491.0,598.5 496.0,600.5 501.0,603.5 506.0,607.0 510.0,610.0" fill="none" stroke="#dcff22" stroke-width="1.6" stroke-linejoin="round" stroke-linecap="round"/>
<polyline points="489.0,597.0 496.0,599.0 503.0,602.0 509.0,606.0 514.0,610.5 520.0,614.0" fill="none" stroke="#fff" stroke-width="0.9" stroke-linejoin="round" stroke-linecap="round"/>
<polyline points="444.0,586.0 455.0,588.0 466.0,591.0 475.0,594.0" fill="none" stroke="#fff" stroke-width="0.9" stroke-linejoin="round" stroke-linecap="round"/>
<ellipse cx="757.0" cy="673.0" rx="4.5" ry="3.0" transform="rotate(-30 757.0 673.0)" fill="#fff"/>
<ellipse cx="749.6" cy="688.0" rx="1.5" ry="0.8" transform="rotate(0 749.6 688.0)" fill="#fff"/>
<ellipse cx="783.7" cy="680.5" rx="1.3" ry="1.3" transform="rotate(0 783.7 680.5)" fill="#fff"/>
<ellipse cx="806.6" cy="689.7" rx="1.2" ry="1.2" transform="rotate(0 806.6 689.7)" fill="#fff"/>
<ellipse cx="807.0" cy="700.0" rx="1.5" ry="1.0" transform="rotate(0 807.0 700.0)" fill="#fff"/>
<ellipse cx="799.8" cy="706.2" rx="0.9" ry="1.1" transform="rotate(0 799.8 706.2)" fill="#fff"/>
<ellipse cx="811.0" cy="716.5" rx="2.5" ry="4.5" transform="rotate(-10 811.0 716.5)" fill="#d3d3d3"/>
<ellipse cx="815.0" cy="714.0" rx="2.0" ry="1.5" transform="rotate(0 815.0 714.0)" fill="#e8e8e8"/>
<ellipse cx="817.2" cy="721.5" rx="1.0" ry="1.0" transform="rotate(0 817.2 721.5)" fill="#e8e8e8"/>
<ellipse cx="815.1" cy="731.0" rx="2.0" ry="4.0" transform="rotate(-10 815.1 731.0)" fill="#d3d3d3"/>
<ellipse cx="821.5" cy="746.0" rx="2.5" ry="4.0" transform="rotate(-30 821.5 746.0)" fill="#d3d3d3"/>
<ellipse cx="822.4" cy="759.8" rx="1.7" ry="3.4" transform="rotate(0 822.4 759.8)" fill="#d3d3d3"/>
<ellipse cx="818.2" cy="772.0" rx="1.0" ry="1.4" transform="rotate(0 818.2 772.0)" fill="#e0e0e0"/>
<ellipse cx="818.2" cy="777.5" rx="1.0" ry="1.0" transform="rotate(0 818.2 777.5)" fill="#e0e0e0"/>
<ellipse cx="809.0" cy="793.4" rx="1.4" ry="2.0" transform="rotate(20 809.0 793.4)" fill="#d3d3d3"/>
<ellipse cx="764.0" cy="814.0" rx="5.0" ry="1.8" transform="rotate(-10 764.0 814.0)" fill="#e0e0e0"/>
<ellipse cx="748.0" cy="803.0" rx="1.5" ry="1.0" transform="rotate(0 748.0 803.0)" fill="#fff"/>
<ellipse cx="735.0" cy="810.0" rx="1.5" ry="1.0" transform="rotate(0 735.0 810.0)" fill="#fff"/>
<ellipse cx="653.5" cy="778.0" rx="1.5" ry="1.0" transform="rotate(30 653.5 778.0)" fill="#fff"/>
<ellipse cx="672.0" cy="780.5" rx="3.0" ry="1.2" transform="rotate(30 672.0 780.5)" fill="#fff"/>
<ellipse cx="684.0" cy="782.0" rx="1.8" ry="1.2" transform="rotate(30 684.0 782.0)" fill="#fff"/>
<ellipse cx="695.5" cy="797.5" rx="1.2" ry="1.0" transform="rotate(0 695.5 797.5)" fill="#fff"/>
<ellipse cx="712.0" cy="785.0" rx="1.0" ry="1.0" transform="rotate(0 712.0 785.0)" fill="#fff"/>
<ellipse cx="594.0" cy="790.0" rx="1.0" ry="1.0" transform="rotate(0 594.0 790.0)" fill="#fff"/>
<ellipse cx="606.0" cy="790.0" rx="1.5" ry="1.0" transform="rotate(20 606.0 790.0)" fill="#fff"/>
<ellipse cx="619.0" cy="800.0" rx="1.0" ry="1.0" transform="rotate(0 619.0 800.0)" fill="#fff"/>
<ellipse cx="630.0" cy="782.0" rx="1.0" ry="1.0" transform="rotate(0 630.0 782.0)" fill="#fff"/>
<ellipse cx="580.0" cy="795.0" rx="1.0" ry="1.0" transform="rotate(0 580.0 795.0)" fill="#fff"/>
<polygon points="531.6,291.7 532.7,297.6 533.9,303.4 536.3,309.3 536.3,315.2 535.1,319.8 537.4,324.5 539.8,328.0 542.1,326.9 543.3,321.0 542.1,315.2 540.9,309.3 539.8,303.4 538.6,297.6 537.4,291.7 536.3,287.0 533.9,285.9" fill="#56ffa8" stroke="#fff" stroke-width="1"/>
<polyline points="517.5,297.6 522.2,302.3 529.2,305.8 535.1,308.1" fill="none" stroke="#f0fff4" stroke-width="1.3" stroke-linejoin="round" stroke-linecap="round"/>
<polyline points="524.5,310.5 531.6,315.2 536.3,317.5" fill="none" stroke="#f0fff4" stroke-width="1.3" stroke-linejoin="round" stroke-linecap="round"/>
<polyline points="524.5,323.4 531.6,325.7 538.6,326.9" fill="none" stroke="#f0fff4" stroke-width="1.3" stroke-linejoin="round" stroke-linecap="round"/>
<polyline points="527.0,291.0 531.0,294.0 534.0,297.0" fill="none" stroke="#f0fff4" stroke-width="1.3" stroke-linejoin="round" stroke-linecap="round"/>
<polygon points="529.2,345.6 536.3,343.9 543.3,344.5 546.8,348.0 550.3,352.7 550.3,358.5 545.6,360.9 538.6,363.2 532.7,364.4 530.4,362.0 531.6,358.5 536.3,356.2 533.9,352.7 529.2,350.3" fill="#80ff80"/>
<polygon points="534.0,351.0 540.0,350.0 542.0,354.0 538.0,357.0 534.0,356.0" fill="#fff400"/>
<polygon points="550.3,282.3 555.0,284.7 559.7,287.0 564.4,290.5 563.2,295.2 559.7,296.4 556.2,291.7 552.7,288.2" fill="#0082ff"/>
<polygon points="240.0,462.2 250.7,454.7 261.5,451.5 272.2,450.9 288.3,451.5 298.0,451.5 298.0,453.6 295.9,460.1 293.7,465.5 296.9,470.8 295.9,475.1 291.6,476.2 285.1,470.8 277.6,473.0 267.9,475.1 259.3,475.1 250.7,471.9 240.0,466.5" fill="#d2eb8c"/>
<polygon points="251.8,455.8 256.1,455.8 261.5,462.2 264.7,466.5 261.5,469.7 256.1,467.6 252.9,462.2" fill="#ff6400"/>
<polygon points="278.7,461.2 284.0,460.1 285.1,464.4 281.9,466.5 278.7,464.4" fill="#ff9600"/>
<polygon points="264.7,453.6 272.2,453.6 272.2,457.9 264.7,457.9" fill="#ffdc00"/>
<polygon points="259.3,468.7 267.9,468.7 267.9,473.0 259.3,473.0" fill="#ffe600"/>
<polygon points="283.0,467.6 290.0,468.0 293.7,472.0 290.0,474.0 285.0,472.0" fill="#ffe100"/>
<polygon points="271.0,451.5 283.0,451.5 283.0,456.9 271.0,456.9" fill="#a8ff56"/>
<polygon points="270.0,460.0 276.0,459.0 278.0,463.0 272.0,464.0" fill="#ffffff"/>
<polygon points="204.0,456.0 215.0,455.0 216.0,461.0 206.0,462.0" fill="#ff7800"/>
<polygon points="215.0,458.0 234.5,458.5 234.5,463.5 216.0,463.0" fill="#ffdc00"/>
<polygon points="455.0,509.0 459.0,509.0 462.5,509.3 464.5,515.2 465.4,523.9 464.5,531.8 462.5,536.6 459.6,538.6 456.6,536.6 454.7,534.7 448.8,535.7 443.0,535.7 439.1,533.7 435.2,530.8 433.2,526.9 434.2,523.0 437.1,520.0 441.0,518.1 443.0,514.2 443.9,510.3 448.8,509.3 453.0,510.5" fill="#880000"/>
<polygon points="446.4,475.0 448.8,487.0 450.8,496.7 452.2,506.5 453.5,512.3 460.5,512.3 459.0,506.5 456.6,496.7 453.7,487.0 450.8,477.2 448.5,471.0 445.5,470.0" fill="#880000"/>
<polygon points="447.9,536.6 454.7,535.7 456.6,538.6 456.6,544.5 454.7,547.4 450.8,546.4 448.8,542.5" fill="#ff4400"/>
<polygon points="444.9,538.6 447.9,537.6 448.8,542.5 450.8,546.4 447.9,547.4 444.9,544.5" fill="#ffc800"/>
<polygon points="754.0,168.5 768.0,167.5 783.0,166.8 772.0,170.5 762.0,174.0 756.0,173.0" fill="#e20000"/>
<polygon points="313.5,452.8 316.3,442.5 319.5,452.8" fill="#a8ff56"/>
<polygon points="749.6,163.5 755.8,162.3 755.0,166.5 751.0,166.8" fill="#ff9c00"/>
<g shape-rendering="crispEdges"><rect x="206.4" y="461.9" width="1.0" height="1.0" fill="#880000"/><rect x="137.5" y="499.8" width="2.0" height="2.0" fill="#b4ff5a"/><rect x="134.5" y="518.1" width="1.0" height="1.0" fill="#880000"/><rect x="138.9" y="532.0" width="2.0" height="2.0" fill="#880000"/><rect x="134.2" y="538.2" width="2.0" height="2.0" fill="#880000"/><rect x="204.4" y="460.7" width="2.0" height="2.0" fill="#880000"/><rect x="146.8" y="491.2" width="1.3" height="1.3" fill="#880000"/><rect x="201.9" y="461.6" width="1.3" height="1.3" fill="#ffffff"/><rect x="138.1" y="546.6" width="1.6" height="1.6" fill="#880000"/><rect x="157.7" y="486.0" width="1.6" height="1.6" fill="#880000"/><rect x="234.7" y="460.1" width="1.0" height="1.0" fill="#880000"/><rect x="168.4" y="475.4" width="1.0" height="1.0" fill="#880000"/><rect x="233.9" y="463.1" width="1.6" height="1.6" fill="#880000"/><rect x="164.5" y="477.5" width="1.3" height="1.3" fill="#880000"/><rect x="135.6" y="535.2" width="1.0" height="1.0" fill="#880000"/><rect x="156.5" y="486.1" width="1.6" height="1.6" fill="#880000"/><rect x="143.2" y="493.5" width="1.0" height="1.0" fill="#ffffff"/><rect x="135.1" y="534.7" width="1.6" height="1.6" fill="#880000"/><rect x="136.4" y="553.8" width="1.3" height="1.3" fill="#880000"/><rect x="144.2" y="491.6" width="1.0" height="1.0" fill="#880000"/><rect x="205.5" y="462.2" width="1.3" height="1.3" fill="#ffffff"/><rect x="236.2" y="463.2" width="1.3" height="1.3" fill="#880000"/><rect x="174.3" y="478.4" width="1.6" height="1.6" fill="#880000"/><rect x="135.2" y="508.3" width="1.3" height="1.3" fill="#880000"/><rect x="239.5" y="459.9" width="2.0" height="2.0" fill="#880000"/><rect x="134.6" y="554.8" width="1.6" height="1.6" fill="#880000"/><rect x="140.1" y="532.4" width="1.6" height="1.6" fill="#ffffff"/><rect x="174.8" y="471.5" width="2.0" height="2.0" fill="#880000"/><rect x="193.8" y="460.8" width="1.3" height="1.3" fill="#ffffff"/><rect x="205.0" y="463.9" width="2.0" height="2.0" fill="#880000"/><rect x="180.0" y="471.1" width="2.0" height="2.0" fill="#880000"/><rect x="204.6" y="463.4" width="1.3" height="1.3" fill="#880000"/><rect x="146.1" y="493.3" width="1.0" height="1.0" fill="#880000"/><rect x="164.6" y="481.3" width="2.0" height="2.0" fill="#880000"/><rect x="207.2" y="458.4" width="1.0" height="1.0" fill="#880000"/><rect x="132.9" y="543.8" width="1.0" height="1.0" fill="#880000"/><rect x="136.8" y="525.8" width="1.6" height="1.6" fill="#880000"/><rect x="136.5" y="553.8" width="1.0" height="1.0" fill="#880000"/><rect x="135.0" y="518.7" width="1.0" height="1.0" fill="#b4ff5a"/><rect x="168.0" y="482.6" width="1.0" height="1.0" fill="#880000"/><rect x="232.2" y="463.9" width="2.0" height="2.0" fill="#880000"/><rect x="187.8" y="466.0" width="2.0" height="2.0" fill="#880000"/><rect x="137.5" y="551.4" width="1.6" height="1.6" fill="#880000"/><rect x="146.6" y="489.9" width="1.3" height="1.3" fill="#880000"/><rect x="244.4" y="465.1" width="1.6" height="1.6" fill="#880000"/><rect x="190.3" y="465.0" width="1.3" height="1.3" fill="#b4ff5a"/><rect x="174.8" y="477.2" width="1.3" height="1.3" fill="#880000"/><rect x="179.0" y="474.3" width="1.6" height="1.6" fill="#880000"/><rect x="156.9" y="487.0" width="1.0" height="1.0" fill="#ffffff"/><rect x="159.3" y="479.6" width="1.0" height="1.0" fill="#ffffff"/><rect x="149.0" y="493.4" width="1.0" height="1.0" fill="#880000"/><rect x="133.7" y="516.2" width="2.0" height="2.0" fill="#880000"/><rect x="139.4" y="524.6" width="1.0" height="1.0" fill="#880000"/><rect x="141.8" y="505.7" width="2.0" height="2.0" fill="#880000"/><rect x="214.5" y="455.2" width="2.0" height="2.0" fill="#880000"/><rect x="133.9" y="552.1" width="2.0" height="2.0" fill="#880000"/><rect x="150.4" y="487.7" width="2.0" height="2.0" fill="#b4ff5a"/><rect x="242.3" y="463.8" width="1.3" height="1.3" fill="#ffffff"/><rect x="189.9" y="467.2" width="2.0" height="2.0" fill="#880000"/><rect x="137.8" y="521.8" width="1.6" height="1.6" fill="#880000"/><rect x="207.9" y="455.2" width="1.0" height="1.0" fill="#880000"/><rect x="140.8" y="492.0" width="1.6" height="1.6" fill="#880000"/><rect x="226.9" y="457.3" width="2.0" height="2.0" fill="#880000"/><rect x="139.6" y="498.9" width="2.0" height="2.0" fill="#880000"/><rect x="195.9" y="465.6" width="2.0" height="2.0" fill="#880000"/><rect x="156.1" y="484.1" width="1.0" height="1.0" fill="#880000"/><rect x="161.6" y="479.9" width="1.6" height="1.6" fill="#880000"/><rect x="171.9" y="477.7" width="1.6" height="1.6" fill="#880000"/><rect x="213.9" y="458.3" width="2.0" height="2.0" fill="#880000"/><rect x="151.2" y="487.2" width="1.6" height="1.6" fill="#880000"/><rect x="140.6" y="537.7" width="1.0" height="1.0" fill="#880000"/><rect x="147.5" y="492.0" width="1.3" height="1.3" fill="#880000"/><rect x="171.3" y="472.3" width="2.0" height="2.0" fill="#880000"/><rect x="195.8" y="465.8" width="2.0" height="2.0" fill="#ffffff"/><rect x="136.8" y="529.4" width="2.0" height="2.0" fill="#ffffff"/><rect x="225.9" y="460.5" width="2.0" height="2.0" fill="#880000"/><rect x="137.4" y="526.4" width="1.6" height="1.6" fill="#ffffff"/><rect x="193.9" y="466.2" width="1.0" height="1.0" fill="#880000"/><rect x="183.1" y="467.1" width="1.3" height="1.3" fill="#880000"/><rect x="132.3" y="520.1" width="1.6" height="1.6" fill="#b4ff5a"/><rect x="201.5" y="462.2" width="1.6" height="1.6" fill="#880000"/><rect x="160.3" y="483.9" width="1.6" height="1.6" fill="#880000"/><rect x="198.2" y="462.7" width="2.0" height="2.0" fill="#880000"/><rect x="160.7" y="482.2" width="1.6" height="1.6" fill="#880000"/><rect x="188.2" y="464.8" width="1.3" height="1.3" fill="#880000"/><rect x="152.9" y="489.8" width="2.0" height="2.0" fill="#ffffff"/><rect x="160.4" y="481.7" width="1.6" height="1.6" fill="#880000"/><rect x="169.8" y="478.9" width="1.3" height="1.3" fill="#ffffff"/><rect x="143.7" y="486.8" width="2.0" height="2.0" fill="#880000"/><rect x="203.5" y="455.6" width="2.0" height="2.0" fill="#880000"/><rect x="132.9" y="552.0" width="1.0" height="1.0" fill="#880000"/><rect x="137.6" y="522.0" width="2.0" height="2.0" fill="#880000"/><rect x="232.9" y="458.7" width="1.0" height="1.0" fill="#ffffff"/><rect x="160.5" y="485.8" width="2.0" height="2.0" fill="#880000"/><rect x="197.8" y="460.9" width="1.0" height="1.0" fill="#880000"/><rect x="136.4" y="543.6" width="1.3" height="1.3" fill="#880000"/><rect x="160.5" y="482.7" width="1.6" height="1.6" fill="#880000"/><rect x="133.0" y="548.5" width="1.3" height="1.3" fill="#ffffff"/><rect x="164.8" y="482.2" width="1.3" height="1.3" fill="#880000"/><rect x="135.9" y="507.6" width="1.0" height="1.0" fill="#ffffff"/><rect x="151.5" y="484.6" width="1.0" height="1.0" fill="#b4ff5a"/><rect x="229.1" y="462.3" width="1.6" height="1.6" fill="#880000"/><rect x="141.3" y="505.2" width="1.0" height="1.0" fill="#b4ff5a"/><rect x="137.3" y="517.4" width="1.0" height="1.0" fill="#b4ff5a"/><rect x="227.2" y="461.9" width="1.0" height="1.0" fill="#880000"/><rect x="148.3" y="487.2" width="1.3" height="1.3" fill="#ffffff"/><rect x="138.3" y="532.6" width="2.0" height="2.0" fill="#880000"/><rect x="167.9" y="477.3" width="1.0" height="1.0" fill="#ffffff"/><rect x="139.3" y="514.5" width="2.0" height="2.0" fill="#b4ff5a"/><rect x="159.5" y="486.4" width="1.0" height="1.0" fill="#ffffff"/><rect x="147.8" y="488.1" width="2.0" height="2.0" fill="#880000"/><rect x="239.8" y="461.2" width="2.0" height="2.0" fill="#880000"/><rect x="212.3" y="461.8" width="1.3" height="1.3" fill="#880000"/><rect x="214.8" y="460.8" width="1.6" height="1.6" fill="#880000"/><rect x="234.6" y="464.5" width="1.3" height="1.3" fill="#b4ff5a"/><rect x="206.1" y="463.3" width="1.0" height="1.0" fill="#b4ff5a"/><rect x="167.8" y="475.0" width="1.0" height="1.0" fill="#880000"/><rect x="224.7" y="459.9" width="2.0" height="2.0" fill="#880000"/><rect x="141.9" y="504.2" width="1.3" height="1.3" fill="#880000"/><rect x="245.0" y="463.7" width="1.0" height="1.0" fill="#880000"/><rect x="138.2" y="548.9" width="1.0" height="1.0" fill="#880000"/><rect x="190.8" y="466.1" width="1.6" height="1.6" fill="#880000"/><rect x="186.5" y="466.0" width="1.0" height="1.0" fill="#ffffff"/><rect x="144.0" y="493.9" width="1.0" height="1.0" fill="#880000"/><rect x="237.0" y="462.9" width="1.6" height="1.6" fill="#880000"/><rect x="180.6" y="469.3" width="1.3" height="1.3" fill="#880000"/><rect x="235.1" y="460.2" width="1.0" height="1.0" fill="#880000"/><rect x="133.3" y="554.3" width="1.6" height="1.6" fill="#880000"/><rect x="135.6" y="536.6" width="2.0" height="2.0" fill="#880000"/><rect x="134.0" y="528.8" width="1.0" height="1.0" fill="#880000"/><rect x="140.8" y="509.8" width="1.0" height="1.0" fill="#ffffff"/><rect x="229.1" y="463.3" width="1.3" height="1.3" fill="#880000"/><rect x="135.8" y="505.7" width="1.3" height="1.3" fill="#880000"/><rect x="128.6" y="556.3" width="1.3" height="1.3" fill="#ffffff"/><rect x="166.6" y="479.8" width="2.0" height="2.0" fill="#880000"/><rect x="174.2" y="478.8" width="2.0" height="2.0" fill="#880000"/><rect x="175.0" y="476.1" width="2.0" height="2.0" fill="#880000"/><rect x="140.1" y="543.1" width="1.0" height="1.0" fill="#880000"/><rect x="196.9" y="465.5" width="1.0" height="1.0" fill="#b4ff5a"/><rect x="151.6" y="487.0" width="2.0" height="2.0" fill="#880000"/><rect x="133.4" y="557.5" width="1.0" height="1.0" fill="#880000"/><rect x="181.3" y="469.5" width="1.6" height="1.6" fill="#880000"/><rect x="176.1" y="473.9" width="1.6" height="1.6" fill="#880000"/><rect x="144.1" y="488.0" width="1.6" height="1.6" fill="#ffffff"/><rect x="228.1" y="459.0" width="2.0" height="2.0" fill="#880000"/><rect x="137.6" y="539.2" width="1.0" height="1.0" fill="#880000"/><rect x="136.9" y="503.2" width="2.0" height="2.0" fill="#880000"/><rect x="233.9" y="462.7" width="1.3" height="1.3" fill="#880000"/><rect x="195.7" y="464.8" width="1.3" height="1.3" fill="#880000"/><rect x="140.5" y="541.3" width="1.0" height="1.0" fill="#880000"/><rect x="145.9" y="487.4" width="2.0" height="2.0" fill="#880000"/><rect x="139.3" y="498.7" width="1.6" height="1.6" fill="#880000"/><rect x="179.5" y="471.0" width="1.3" height="1.3" fill="#b4ff5a"/><rect x="139.2" y="509.0" width="1.0" height="1.0" fill="#880000"/><rect x="184.8" y="469.4" width="1.0" height="1.0" fill="#880000"/><rect x="179.1" y="475.0" width="1.0" height="1.0" fill="#880000"/><rect x="138.0" y="504.4" width="1.6" height="1.6" fill="#ffffff"/><rect x="167.7" y="480.3" width="1.6" height="1.6" fill="#b4ff5a"/><rect x="138.1" y="504.6" width="1.0" height="1.0" fill="#880000"/><rect x="141.0" y="525.9" width="1.3" height="1.3" fill="#880000"/><rect x="216.5" y="457.1" width="2.0" height="2.0" fill="#880000"/><rect x="140.0" y="521.0" width="1.3" height="1.3" fill="#b4ff5a"/><rect x="135.8" y="522.4" width="1.6" height="1.6" fill="#880000"/><rect x="189.3" y="468.5" width="1.3" height="1.3" fill="#880000"/><rect x="297.2" y="449.8" width="1.6" height="1.6" fill="#880000"/><rect x="356.2" y="448.4" width="2.0" height="2.0" fill="#880000"/><rect x="320.7" y="451.2" width="2.0" height="2.0" fill="#880000"/><rect x="361.6" y="453.4" width="1.0" height="1.0" fill="#ff8800"/><rect x="309.9" y="448.2" width="2.0" height="2.0" fill="#880000"/><rect x="343.9" y="449.7" width="2.0" height="2.0" fill="#880000"/><rect x="322.8" y="447.0" width="1.3" height="1.3" fill="#ff8800"/><rect x="301.9" y="447.5" width="1.0" height="1.0" fill="#880000"/><rect x="293.8" y="446.5" width="1.0" height="1.0" fill="#880000"/><rect x="309.9" y="445.4" width="1.3" height="1.3" fill="#880000"/><rect x="344.6" y="444.2" width="1.0" height="1.0" fill="#880000"/><rect x="360.4" y="449.0" width="2.0" height="2.0" fill="#880000"/><rect x="358.0" y="449.6" width="2.0" height="2.0" fill="#880000"/><rect x="335.1" y="448.0" width="1.6" height="1.6" fill="#880000"/><rect x="342.0" y="445.1" width="1.6" height="1.6" fill="#880000"/><rect x="303.6" y="449.0" width="1.0" height="1.0" fill="#880000"/><rect x="298.9" y="450.2" width="2.0" height="2.0" fill="#880000"/><rect x="343.8" y="448.7" width="1.6" height="1.6" fill="#ff8800"/><rect x="353.1" y="452.3" width="1.3" height="1.3" fill="#880000"/><rect x="301.6" y="448.9" width="1.3" height="1.3" fill="#880000"/><rect x="335.6" y="445.2" width="1.3" height="1.3" fill="#880000"/><rect x="296.2" y="452.7" width="2.0" height="2.0" fill="#880000"/><rect x="291.5" y="448.7" width="1.0" height="1.0" fill="#880000"/><rect x="321.5" y="446.6" width="1.0" height="1.0" fill="#880000"/><rect x="298.5" y="449.6" width="1.6" height="1.6" fill="#880000"/><rect x="341.2" y="447.2" width="1.6" height="1.6" fill="#880000"/><rect x="324.5" y="447.8" width="1.0" height="1.0" fill="#ff8800"/><rect x="297.1" y="451.1" width="1.0" height="1.0" fill="#880000"/><rect x="312.0" y="447.5" width="1.6" height="1.6" fill="#ff8800"/><rect x="390.5" y="455.8" width="1.3" height="1.3" fill="#880000"/><rect x="388.9" y="454.0" width="1.6" height="1.6" fill="#880000"/><rect x="372.5" y="460.8" width="2.0" height="2.0" fill="#880000"/><rect x="383.3" y="457.8" width="1.0" height="1.0" fill="#880000"/><rect x="418.4" y="490.5" width="1.0" height="1.0" fill="#880000"/><rect x="419.5" y="488.6" width="2.0" height="2.0" fill="#880000"/><rect x="406.4" y="463.5" width="1.3" height="1.3" fill="#880000"/><rect x="359.5" y="453.6" width="1.3" height="1.3" fill="#880000"/><rect x="367.7" y="462.8" width="1.0" height="1.0" fill="#880000"/><rect x="357.0" y="449.2" width="2.0" height="2.0" fill="#880000"/><rect x="378.5" y="460.5" width="2.0" height="2.0" fill="#880000"/><rect x="378.1" y="462.3" width="1.0" height="1.0" fill="#880000"/><rect x="419.7" y="490.4" width="1.0" height="1.0" fill="#880000"/><rect x="406.9" y="462.9" width="2.0" height="2.0" fill="#880000"/><rect x="363.4" y="457.5" width="1.0" height="1.0" fill="#880000"/><rect x="356.7" y="452.7" width="2.0" height="2.0" fill="#880000"/><rect x="369.0" y="460.3" width="1.3" height="1.3" fill="#880000"/><rect x="387.9" y="456.6" width="1.6" height="1.6" fill="#880000"/><rect x="418.5" y="482.2" width="1.3" height="1.3" fill="#880000"/><rect x="417.2" y="496.7" width="1.3" height="1.3" fill="#880000"/><rect x="414.9" y="469.5" width="1.3" height="1.3" fill="#880000"/><rect x="378.9" y="458.5" width="2.0" height="2.0" fill="#880000"/><rect x="397.0" y="459.3" width="2.0" height="2.0" fill="#880000"/><rect x="365.4" y="451.2" width="1.6" height="1.6" fill="#880000"/><rect x="359.2" y="450.5" width="2.0" height="2.0" fill="#ffffff"/><rect x="383.1" y="458.9" width="1.3" height="1.3" fill="#880000"/><rect x="410.5" y="470.9" width="1.3" height="1.3" fill="#880000"/><rect x="403.3" y="462.6" width="1.3" height="1.3" fill="#ffffff"/><rect x="407.1" y="463.4" width="1.3" height="1.3" fill="#ffffff"/><rect x="399.6" y="457.4" width="1.3" height="1.3" fill="#880000"/><rect x="392.9" y="455.6" width="1.6" height="1.6" fill="#880000"/><rect x="415.6" y="497.3" width="1.6" height="1.6" fill="#ffffff"/><rect x="374.5" y="463.7" width="1.6" height="1.6" fill="#880000"/><rect x="370.2" y="457.8" width="1.6" height="1.6" fill="#880000"/><rect x="402.0" y="459.2" width="1.6" height="1.6" fill="#880000"/><rect x="413.9" y="466.6" width="1.3" height="1.3" fill="#ffffff"/><rect x="358.8" y="454.3" width="1.0" height="1.0" fill="#880000"/><rect x="388.4" y="454.3" width="1.3" height="1.3" fill="#880000"/><rect x="406.7" y="464.6" width="1.6" height="1.6" fill="#880000"/><rect x="409.8" y="471.4" width="1.6" height="1.6" fill="#880000"/><rect x="363.9" y="455.9" width="2.0" height="2.0" fill="#880000"/><rect x="419.8" y="482.2" width="2.0" height="2.0" fill="#880000"/><rect x="415.0" y="469.1" width="1.0" height="1.0" fill="#880000"/><rect x="414.8" y="497.4" width="1.6" height="1.6" fill="#880000"/><rect x="417.5" y="495.7" width="1.3" height="1.3" fill="#ffffff"/><rect x="383.0" y="452.6" width="1.0" height="1.0" fill="#880000"/><rect x="412.6" y="470.6" width="1.3" height="1.3" fill="#880000"/><rect x="414.1" y="475.4" width="1.6" height="1.6" fill="#880000"/><rect x="362.3" y="456.7" width="1.6" height="1.6" fill="#880000"/><rect x="356.8" y="452.2" width="1.6" height="1.6" fill="#880000"/><rect x="419.3" y="508.9" width="2.0" height="2.0" fill="#880000"/><rect x="430.4" y="518.1" width="1.0" height="1.0" fill="#880000"/><rect x="416.7" y="503.8" width="1.6" height="1.6" fill="#880000"/><rect x="417.3" y="494.0" width="2.0" height="2.0" fill="#ffffff"/><rect x="424.9" y="513.3" width="1.0" height="1.0" fill="#880000"/><rect x="431.5" y="523.4" width="1.6" height="1.6" fill="#880000"/><rect x="424.1" y="511.9" width="1.6" height="1.6" fill="#880000"/><rect x="436.4" y="523.7" width="1.3" height="1.3" fill="#880000"/><rect x="438.4" y="524.1" width="1.6" height="1.6" fill="#880000"/><rect x="415.7" y="491.6" width="2.0" height="2.0" fill="#ffffff"/><rect x="432.5" y="524.9" width="1.6" height="1.6" fill="#880000"/><rect x="419.7" y="497.0" width="1.0" height="1.0" fill="#880000"/><rect x="432.5" y="521.8" width="2.0" height="2.0" fill="#880000"/><rect x="437.5" y="526.9" width="1.0" height="1.0" fill="#880000"/><rect x="432.2" y="524.5" width="1.0" height="1.0" fill="#880000"/><rect x="419.9" y="505.1" width="1.6" height="1.6" fill="#880000"/><rect x="427.7" y="518.8" width="2.0" height="2.0" fill="#880000"/><rect x="419.2" y="505.3" width="1.3" height="1.3" fill="#880000"/><rect x="435.8" y="527.6" width="1.0" height="1.0" fill="#880000"/><rect x="417.2" y="496.3" width="1.6" height="1.6" fill="#880000"/><rect x="418.5" y="503.8" width="1.0" height="1.0" fill="#ffffff"/><rect x="417.5" y="494.3" width="1.0" height="1.0" fill="#880000"/><rect x="424.5" y="513.2" width="1.0" height="1.0" fill="#880000"/><rect x="428.6" y="522.1" width="1.0" height="1.0" fill="#880000"/><rect x="419.5" y="500.2" width="1.6" height="1.6" fill="#880000"/><rect x="416.8" y="490.7" width="1.0" height="1.0" fill="#880000"/><rect x="420.0" y="496.5" width="1.6" height="1.6" fill="#ffffff"/><rect x="430.6" y="520.6" width="1.0" height="1.0" fill="#880000"/><rect x="417.4" y="496.3" width="1.0" height="1.0" fill="#880000"/><rect x="418.6" y="493.3" width="2.0" height="2.0" fill="#880000"/><rect x="421.1" y="501.2" width="1.6" height="1.6" fill="#ffffff"/><rect x="426.9" y="512.4" width="1.3" height="1.3" fill="#880000"/><rect x="435.9" y="528.7" width="1.3" height="1.3" fill="#880000"/><rect x="417.5" y="505.5" width="1.0" height="1.0" fill="#880000"/><rect x="445.5" y="468.8" width="1.3" height="1.3" fill="#ffffff"/><rect x="489.3" y="377.2" width="2.0" height="2.0" fill="#880000"/><rect x="435.8" y="456.8" width="2.0" height="2.0" fill="#ffcc00"/><rect x="446.5" y="413.5" width="1.6" height="1.6" fill="#ff6600"/><rect x="459.5" y="401.3" width="2.0" height="2.0" fill="#ffffff"/><rect x="520.1" y="364.8" width="1.6" height="1.6" fill="#ffffff"/><rect x="519.8" y="370.4" width="2.0" height="2.0" fill="#880000"/><rect x="445.6" y="470.3" width="1.3" height="1.3" fill="#ffcc00"/><rect x="481.0" y="385.3" width="1.6" height="1.6" fill="#880000"/><rect x="513.6" y="368.7" width="1.0" height="1.0" fill="#880000"/><rect x="437.8" y="446.9" width="1.0" height="1.0" fill="#880000"/><rect x="524.9" y="367.3" width="1.0" height="1.0" fill="#880000"/><rect x="473.5" y="399.4" width="1.0" height="1.0" fill="#ffcc00"/><rect x="441.0" y="459.3" width="1.3" height="1.3" fill="#880000"/><rect x="527.4" y="356.3" width="1.6" height="1.6" fill="#880000"/><rect x="433.1" y="444.4" width="2.0" height="2.0" fill="#880000"/><rect x="506.8" y="376.0" width="2.0" height="2.0" fill="#880000"/><rect x="516.2" y="366.4" width="2.0" height="2.0" fill="#ffffff"/><rect x="443.3" y="469.1" width="1.0" height="1.0" fill="#880000"/><rect x="438.7" y="430.9" width="1.3" height="1.3" fill="#880000"/><rect x="438.7" y="458.6" width="1.6" height="1.6" fill="#880000"/><rect x="458.8" y="410.3" width="1.3" height="1.3" fill="#880000"/><rect x="444.9" y="418.7" width="1.6" height="1.6" fill="#880000"/><rect x="483.9" y="386.8" width="1.3" height="1.3" fill="#880000"/><rect x="474.7" y="402.6" width="1.6" height="1.6" fill="#ffcc00"/><rect x="530.0" y="364.1" width="1.3" height="1.3" fill="#ffffff"/><rect x="468.6" y="406.1" width="1.3" height="1.3" fill="#ff6600"/><rect x="477.3" y="396.8" width="2.0" height="2.0" fill="#880000"/><rect x="470.3" y="404.0" width="1.0" height="1.0" fill="#880000"/><rect x="525.1" y="358.1" width="1.6" height="1.6" fill="#880000"/><rect x="443.5" y="427.2" width="1.6" height="1.6" fill="#880000"/><rect x="436.0" y="448.3" width="2.0" height="2.0" fill="#880000"/><rect x="432.7" y="442.9" width="1.3" height="1.3" fill="#880000"/><rect x="452.5" y="482.4" width="2.0" height="2.0" fill="#ff6600"/><rect x="482.4" y="383.5" width="2.0" height="2.0" fill="#880000"/><rect x="529.3" y="359.1" width="1.0" height="1.0" fill="#880000"/><rect x="430.6" y="432.7" width="2.0" height="2.0" fill="#880000"/><rect x="512.8" y="369.5" width="2.0" height="2.0" fill="#880000"/><rect x="481.3" y="381.5" width="1.3" height="1.3" fill="#880000"/><rect x="524.8" y="369.5" width="1.0" height="1.0" fill="#880000"/><rect x="436.3" y="453.0" width="2.0" height="2.0" fill="#ff6600"/><rect x="434.4" y="461.3" width="1.3" height="1.3" fill="#880000"/><rect x="439.6" y="423.3" width="1.6" height="1.6" fill="#ffffff"/><rect x="435.4" y="439.1" width="1.0" height="1.0" fill="#ff6600"/><rect x="437.2" y="475.7" width="1.0" height="1.0" fill="#ff6600"/><rect x="441.8" y="462.0" width="1.6" height="1.6" fill="#880000"/><rect x="484.4" y="386.1" width="2.0" height="2.0" fill="#880000"/><rect x="487.2" y="383.1" width="1.3" height="1.3" fill="#ff6600"/><rect x="506.5" y="370.7" width="1.6" height="1.6" fill="#880000"/><rect x="437.9" y="458.9" width="1.0" height="1.0" fill="#880000"/><rect x="430.8" y="427.5" width="1.3" height="1.3" fill="#ffffff"/><rect x="448.5" y="420.3" width="1.0" height="1.0" fill="#880000"/><rect x="439.6" y="430.1" width="1.3" height="1.3" fill="#880000"/><rect x="436.8" y="457.1" width="1.6" height="1.6" fill="#ffffff"/><rect x="528.6" y="365.1" width="1.6" height="1.6" fill="#880000"/><rect x="518.8" y="365.3" width="1.3" height="1.3" fill="#880000"/><rect x="487.6" y="380.2" width="1.0" height="1.0" fill="#880000"/><rect x="459.3" y="407.3" width="1.3" height="1.3" fill="#880000"/><rect x="443.7" y="469.9" width="1.3" height="1.3" fill="#880000"/><rect x="441.7" y="415.5" width="2.0" height="2.0" fill="#880000"/><rect x="520.6" y="368.7" width="1.0" height="1.0" fill="#880000"/><rect x="458.5" y="403.3" width="1.6" height="1.6" fill="#880000"/><rect x="438.3" y="443.8" width="1.0" height="1.0" fill="#880000"/><rect x="447.7" y="413.4" width="1.3" height="1.3" fill="#ffcc00"/><rect x="499.1" y="378.3" width="1.6" height="1.6" fill="#880000"/><rect x="438.5" y="476.4" width="1.0" height="1.0" fill="#ffffff"/><rect x="496.6" y="384.2" width="1.6" height="1.6" fill="#ffffff"/><rect x="442.8" y="475.2" width="2.0" height="2.0" fill="#880000"/><rect x="503.8" y="374.8" width="1.0" height="1.0" fill="#880000"/><rect x="442.9" y="479.4" width="1.3" height="1.3" fill="#880000"/><rect x="434.5" y="441.4" width="1.3" height="1.3" fill="#ff6600"/><rect x="446.8" y="418.9" width="1.6" height="1.6" fill="#ffcc00"/><rect x="436.2" y="441.5" width="2.0" height="2.0" fill="#880000"/><rect x="446.5" y="413.6" width="1.0" height="1.0" fill="#ffffff"/><rect x="495.5" y="384.2" width="1.6" height="1.6" fill="#880000"/><rect x="444.0" y="465.6" width="2.0" height="2.0" fill="#880000"/><rect x="480.2" y="393.1" width="1.6" height="1.6" fill="#880000"/><rect x="471.2" y="401.2" width="1.0" height="1.0" fill="#ffcc00"/><rect x="499.2" y="380.6" width="1.3" height="1.3" fill="#880000"/><rect x="514.0" y="368.7" width="1.0" height="1.0" fill="#880000"/><rect x="441.8" y="466.3" width="1.0" height="1.0" fill="#880000"/><rect x="445.2" y="408.9" width="1.6" height="1.6" fill="#880000"/><rect x="484.8" y="392.4" width="1.3" height="1.3" fill="#ffffff"/><rect x="445.0" y="467.7" width="1.0" height="1.0" fill="#ffffff"/><rect x="534.1" y="362.3" width="2.0" height="2.0" fill="#880000"/><rect x="488.6" y="388.3" width="1.0" height="1.0" fill="#880000"/><rect x="446.0" y="416.0" width="1.6" height="1.6" fill="#ffffff"/><rect x="443.2" y="476.5" width="1.0" height="1.0" fill="#ffcc00"/><rect x="507.3" y="372.5" width="2.0" height="2.0" fill="#880000"/><rect x="463.4" y="405.2" width="2.0" height="2.0" fill="#ffffff"/><rect x="444.5" y="476.8" width="1.0" height="1.0" fill="#ff6600"/><rect x="444.0" y="482.9" width="2.0" height="2.0" fill="#880000"/><rect x="532.6" y="360.9" width="1.6" height="1.6" fill="#ffffff"/><rect x="445.9" y="415.1" width="1.0" height="1.0" fill="#880000"/><rect x="443.7" y="424.5" width="2.0" height="2.0" fill="#ffffff"/><rect x="498.9" y="379.3" width="1.3" height="1.3" fill="#ffcc00"/><rect x="488.1" y="380.6" width="1.0" height="1.0" fill="#ffffff"/><rect x="448.4" y="421.9" width="1.6" height="1.6" fill="#880000"/><rect x="466.2" y="398.7" width="1.6" height="1.6" fill="#880000"/><rect x="437.6" y="433.8" width="2.0" height="2.0" fill="#ffcc00"/><rect x="529.6" y="366.4" width="1.3" height="1.3" fill="#880000"/><rect x="435.8" y="462.8" width="1.0" height="1.0" fill="#880000"/><rect x="447.2" y="475.5" width="2.0" height="2.0" fill="#880000"/><rect x="437.5" y="428.0" width="1.3" height="1.3" fill="#880000"/><rect x="439.2" y="439.3" width="1.0" height="1.0" fill="#ffffff"/><rect x="442.8" y="464.6" width="1.0" height="1.0" fill="#ffffff"/><rect x="531.9" y="361.1" width="1.0" height="1.0" fill="#880000"/><rect x="493.9" y="384.2" width="1.3" height="1.3" fill="#ffffff"/><rect x="516.6" y="372.2" width="2.0" height="2.0" fill="#ffffff"/><rect x="509.3" y="376.8" width="1.6" height="1.6" fill="#ff6600"/><rect x="444.1" y="473.0" width="1.3" height="1.3" fill="#880000"/><rect x="439.3" y="447.2" width="1.0" height="1.0" fill="#ffffff"/><rect x="457.1" y="407.9" width="2.0" height="2.0" fill="#880000"/><rect x="474.4" y="400.2" width="2.0" height="2.0" fill="#880000"/><rect x="447.9" y="421.7" width="1.3" height="1.3" fill="#880000"/><rect x="448.0" y="411.2" width="1.3" height="1.3" fill="#880000"/><rect x="445.0" y="421.1" width="1.3" height="1.3" fill="#880000"/><rect x="482.7" y="383.0" width="1.6" height="1.6" fill="#880000"/><rect x="488.9" y="384.8" width="2.0" height="2.0" fill="#ff6600"/><rect x="444.3" y="470.1" width="1.3" height="1.3" fill="#880000"/><rect x="491.1" y="382.8" width="1.6" height="1.6" fill="#ffffff"/><rect x="441.7" y="430.2" width="1.0" height="1.0" fill="#880000"/><rect x="452.3" y="416.3" width="1.0" height="1.0" fill="#880000"/><rect x="443.7" y="426.9" width="1.6" height="1.6" fill="#ffffff"/><rect x="429.3" y="450.2" width="1.6" height="1.6" fill="#880000"/><rect x="452.7" y="481.0" width="1.3" height="1.3" fill="#880000"/><rect x="440.2" y="433.4" width="1.0" height="1.0" fill="#ff6600"/><rect x="437.0" y="474.3" width="2.0" height="2.0" fill="#ffcc00"/><rect x="529.7" y="367.5" width="1.6" height="1.6" fill="#ffcc00"/><rect x="438.1" y="427.9" width="1.6" height="1.6" fill="#880000"/><rect x="461.4" y="403.9" width="2.0" height="2.0" fill="#880000"/><rect x="508.3" y="372.4" width="1.0" height="1.0" fill="#880000"/><rect x="499.7" y="374.1" width="1.6" height="1.6" fill="#880000"/><rect x="441.3" y="459.2" width="1.0" height="1.0" fill="#880000"/><rect x="504.6" y="378.5" width="2.0" height="2.0" fill="#ffffff"/><rect x="519.5" y="371.3" width="1.6" height="1.6" fill="#880000"/><rect x="434.5" y="440.5" width="1.6" height="1.6" fill="#ff6600"/><rect x="513.2" y="367.9" width="1.6" height="1.6" fill="#880000"/><rect x="466.2" y="404.6" width="1.6" height="1.6" fill="#ffffff"/><rect x="471.5" y="391.6" width="2.0" height="2.0" fill="#880000"/><rect x="441.8" y="470.5" width="2.0" height="2.0" fill="#ff6600"/><rect x="502.9" y="375.0" width="1.3" height="1.3" fill="#880000"/><rect x="435.6" y="443.1" width="2.0" height="2.0" fill="#880000"/><rect x="473.3" y="400.1" width="1.0" height="1.0" fill="#880000"/><rect x="439.2" y="461.7" width="1.3" height="1.3" fill="#ffffff"/><rect x="427.1" y="439.2" width="1.0" height="1.0" fill="#ffffff"/><rect x="439.2" y="437.2" width="2.0" height="2.0" fill="#880000"/><rect x="491.7" y="379.8" width="1.3" height="1.3" fill="#880000"/><rect x="437.9" y="474.6" width="1.0" height="1.0" fill="#880000"/><rect x="450.7" y="481.8" width="2.0" height="2.0" fill="#ffcc00"/><rect x="506.5" y="371.8" width="1.0" height="1.0" fill="#ff6600"/><rect x="432.4" y="449.8" width="1.3" height="1.3" fill="#880000"/><rect x="456.3" y="400.2" width="1.6" height="1.6" fill="#880000"/><rect x="443.0" y="467.2" width="1.3" height="1.3" fill="#880000"/><rect x="502.0" y="373.1" width="2.0" height="2.0" fill="#880000"/><rect x="494.1" y="379.2" width="1.0" height="1.0" fill="#880000"/><rect x="501.2" y="377.0" width="1.0" height="1.0" fill="#880000"/><rect x="470.6" y="404.8" width="2.0" height="2.0" fill="#ffcc00"/><rect x="440.5" y="472.9" width="1.3" height="1.3" fill="#ffffff"/><rect x="435.5" y="447.7" width="1.6" height="1.6" fill="#880000"/><rect x="447.9" y="418.8" width="1.6" height="1.6" fill="#ffffff"/><rect x="430.4" y="460.1" width="1.0" height="1.0" fill="#880000"/><rect x="515.4" y="372.1" width="2.0" height="2.0" fill="#880000"/><rect x="449.1" y="409.7" width="1.0" height="1.0" fill="#ffcc00"/><rect x="492.2" y="376.5" width="1.3" height="1.3" fill="#880000"/><rect x="488.9" y="379.6" width="1.0" height="1.0" fill="#880000"/><rect x="434.5" y="431.8" width="1.0" height="1.0" fill="#880000"/><rect x="459.7" y="410.6" width="1.3" height="1.3" fill="#880000"/><rect x="478.1" y="394.7" width="2.0" height="2.0" fill="#ffcc00"/><rect x="440.3" y="454.7" width="1.3" height="1.3" fill="#880000"/><rect x="472.4" y="394.9" width="1.3" height="1.3" fill="#ff6600"/><rect x="446.8" y="421.0" width="1.3" height="1.3" fill="#ffcc00"/><rect x="469.1" y="393.7" width="1.6" height="1.6" fill="#880000"/><rect x="437.2" y="471.6" width="2.0" height="2.0" fill="#ffffff"/><rect x="510.3" y="372.7" width="1.0" height="1.0" fill="#ffcc00"/><rect x="462.0" y="410.0" width="1.0" height="1.0" fill="#880000"/><rect x="472.9" y="402.5" width="1.3" height="1.3" fill="#880000"/><rect x="452.9" y="410.0" width="1.3" height="1.3" fill="#ffffff"/><rect x="426.9" y="443.8" width="1.3" height="1.3" fill="#880000"/><rect x="462.4" y="407.9" width="1.0" height="1.0" fill="#880000"/><rect x="468.5" y="404.2" width="2.0" height="2.0" fill="#ffffff"/><rect x="477.0" y="390.6" width="2.0" height="2.0" fill="#880000"/><rect x="429.1" y="453.0" width="1.6" height="1.6" fill="#880000"/><rect x="449.7" y="476.5" width="1.0" height="1.0" fill="#880000"/><rect x="496.3" y="376.9" width="2.0" height="2.0" fill="#880000"/><rect x="491.7" y="387.7" width="1.6" height="1.6" fill="#880000"/><rect x="503.9" y="377.4" width="1.6" height="1.6" fill="#880000"/><rect x="519.3" y="370.5" width="1.3" height="1.3" fill="#880000"/><rect x="452.5" y="480.6" width="1.0" height="1.0" fill="#880000"/><rect x="435.6" y="462.6" width="1.3" height="1.3" fill="#880000"/><rect x="452.2" y="411.2" width="1.6" height="1.6" fill="#ff6600"/><rect x="538.6" y="357.5" width="2.0" height="2.0" fill="#ffffff"/><rect x="438.1" y="438.7" width="1.6" height="1.6" fill="#880000"/><rect x="433.8" y="422.6" width="1.3" height="1.3" fill="#880000"/><rect x="446.5" y="416.4" width="1.3" height="1.3" fill="#880000"/><rect x="508.0" y="369.9" width="1.6" height="1.6" fill="#ffcc00"/><rect x="433.2" y="442.6" width="1.6" height="1.6" fill="#ffcc00"/><rect x="481.3" y="389.9" width="2.0" height="2.0" fill="#880000"/><rect x="485.0" y="392.0" width="2.0" height="2.0" fill="#880000"/><rect x="505.2" y="374.9" width="1.0" height="1.0" fill="#880000"/><rect x="488.4" y="384.4" width="2.0" height="2.0" fill="#ffffff"/><rect x="471.6" y="401.1" width="2.0" height="2.0" fill="#880000"/><rect x="469.7" y="404.3" width="2.0" height="2.0" fill="#ff6600"/><rect x="500.5" y="369.7" width="1.3" height="1.3" fill="#ffffff"/><rect x="496.4" y="384.7" width="1.3" height="1.3" fill="#880000"/><rect x="460.8" y="403.0" width="1.3" height="1.3" fill="#880000"/><rect x="454.4" y="484.9" width="1.3" height="1.3" fill="#ffcc00"/><rect x="515.1" y="364.7" width="1.6" height="1.6" fill="#ffffff"/><rect x="536.8" y="359.3" width="1.6" height="1.6" fill="#ff6600"/><rect x="445.3" y="486.0" width="2.0" height="2.0" fill="#880000"/><rect x="465.8" y="396.5" width="1.3" height="1.3" fill="#880000"/><rect x="467.8" y="404.5" width="2.0" height="2.0" fill="#880000"/><rect x="453.1" y="413.1" width="1.3" height="1.3" fill="#ffffff"/><rect x="518.0" y="367.0" width="2.0" height="2.0" fill="#ffffff"/><rect x="500.8" y="383.1" width="1.6" height="1.6" fill="#880000"/><rect x="436.0" y="425.4" width="1.6" height="1.6" fill="#ff6600"/><rect x="518.9" y="366.4" width="1.3" height="1.3" fill="#ffffff"/><rect x="464.2" y="396.9" width="1.0" height="1.0" fill="#880000"/><rect x="512.1" y="369.1" width="1.0" height="1.0" fill="#ffffff"/><rect x="512.1" y="368.9" width="1.3" height="1.3" fill="#880000"/><rect x="448.3" y="421.1" width="1.6" height="1.6" fill="#ffcc00"/><rect x="533.1" y="363.1" width="2.0" height="2.0" fill="#ffffff"/><rect x="465.5" y="405.3" width="1.3" height="1.3" fill="#880000"/><rect x="471.9" y="395.3" width="2.0" height="2.0" fill="#ffcc00"/><rect x="439.1" y="440.4" width="2.0" height="2.0" fill="#880000"/><rect x="507.9" y="372.4" width="1.3" height="1.3" fill="#ffcc00"/><rect x="443.0" y="461.3" width="1.0" height="1.0" fill="#ff6600"/><rect x="446.7" y="419.3" width="1.6" height="1.6" fill="#ffcc00"/><rect x="465.7" y="396.4" width="1.0" height="1.0" fill="#880000"/><rect x="493.5" y="378.7" width="1.6" height="1.6" fill="#880000"/><rect x="462.7" y="399.9" width="2.0" height="2.0" fill="#880000"/><rect x="440.7" y="473.3" width="1.3" height="1.3" fill="#ffffff"/><rect x="434.5" y="442.4" width="2.0" height="2.0" fill="#880000"/><rect x="508.5" y="374.1" width="1.0" height="1.0" fill="#880000"/><rect x="483.5" y="390.6" width="1.6" height="1.6" fill="#880000"/><rect x="450.4" y="416.0" width="2.0" height="2.0" fill="#ffffff"/><rect x="432.3" y="453.3" width="1.0" height="1.0" fill="#880000"/><rect x="439.2" y="431.7" width="1.6" height="1.6" fill="#880000"/><rect x="476.7" y="399.7" width="2.0" height="2.0" fill="#880000"/><rect x="441.5" y="416.3" width="2.0" height="2.0" fill="#880000"/><rect x="491.8" y="387.3" width="2.0" height="2.0" fill="#880000"/><rect x="496.2" y="386.1" width="1.0" height="1.0" fill="#880000"/><rect x="460.1" y="409.5" width="1.0" height="1.0" fill="#880000"/><rect x="441.6" y="431.6" width="1.3" height="1.3" fill="#ffcc00"/><rect x="464.3" y="400.4" width="1.3" height="1.3" fill="#ffffff"/><rect x="468.1" y="399.2" width="1.3" height="1.3" fill="#880000"/><rect x="446.0" y="481.6" width="2.0" height="2.0" fill="#ff6600"/><rect x="444.3" y="423.9" width="1.0" height="1.0" fill="#880000"/><rect x="447.5" y="423.7" width="2.0" height="2.0" fill="#880000"/><rect x="505.4" y="373.5" width="1.3" height="1.3" fill="#880000"/><rect x="530.4" y="366.7" width="1.6" height="1.6" fill="#880000"/><rect x="446.6" y="469.6" width="2.0" height="2.0" fill="#880000"/><rect x="458.2" y="405.6" width="1.0" height="1.0" fill="#880000"/><rect x="531.4" y="362.8" width="1.0" height="1.0" fill="#880000"/><rect x="430.5" y="462.8" width="1.3" height="1.3" fill="#ffffff"/><rect x="449.6" y="476.4" width="1.3" height="1.3" fill="#880000"/><rect x="467.2" y="406.8" width="1.3" height="1.3" fill="#880000"/><rect x="527.1" y="365.5" width="1.0" height="1.0" fill="#880000"/><rect x="518.2" y="366.5" width="1.6" height="1.6" fill="#880000"/><rect x="439.4" y="438.4" width="1.0" height="1.0" fill="#880000"/><rect x="463.0" y="401.3" width="1.3" height="1.3" fill="#ff6600"/><rect x="516.9" y="366.1" width="1.3" height="1.3" fill="#880000"/><rect x="439.9" y="425.7" width="2.0" height="2.0" fill="#880000"/><rect x="501.1" y="379.2" width="1.3" height="1.3" fill="#ffcc00"/><rect x="435.3" y="470.1" width="1.3" height="1.3" fill="#880000"/><rect x="461.5" y="403.4" width="1.0" height="1.0" fill="#880000"/><rect x="469.6" y="399.6" width="1.6" height="1.6" fill="#ffffff"/><rect x="482.6" y="390.2" width="1.6" height="1.6" fill="#880000"/><rect x="476.0" y="394.2" width="1.6" height="1.6" fill="#880000"/><rect x="440.8" y="461.4" width="2.0" height="2.0" fill="#880000"/><rect x="449.0" y="479.6" width="1.3" height="1.3" fill="#880000"/><rect x="440.7" y="457.4" width="2.0" height="2.0" fill="#ffffff"/><rect x="450.9" y="480.8" width="1.3" height="1.3" fill="#ff6600"/><rect x="439.3" y="448.5" width="2.0" height="2.0" fill="#880000"/><rect x="439.7" y="460.2" width="2.0" height="2.0" fill="#880000"/><rect x="441.1" y="462.5" width="1.0" height="1.0" fill="#880000"/><rect x="446.9" y="475.6" width="2.0" height="2.0" fill="#ffffff"/><rect x="442.9" y="477.6" width="2.0" height="2.0" fill="#880000"/><rect x="446.6" y="470.9" width="1.0" height="1.0" fill="#880000"/><rect x="445.7" y="476.8" width="1.0" height="1.0" fill="#880000"/><rect x="443.6" y="464.8" width="1.0" height="1.0" fill="#880000"/><rect x="439.1" y="465.7" width="1.6" height="1.6" fill="#ff6600"/><rect x="444.8" y="473.0" width="1.0" height="1.0" fill="#ff6600"/><rect x="448.4" y="476.9" width="1.6" height="1.6" fill="#880000"/><rect x="439.5" y="464.3" width="1.0" height="1.0" fill="#ffffff"/><rect x="438.2" y="445.9" width="1.3" height="1.3" fill="#880000"/><rect x="445.5" y="472.7" width="2.0" height="2.0" fill="#880000"/><rect x="449.0" y="477.9" width="1.0" height="1.0" fill="#880000"/><rect x="437.3" y="458.0" width="2.0" height="2.0" fill="#880000"/><rect x="444.2" y="475.0" width="1.0" height="1.0" fill="#880000"/><rect x="444.1" y="466.7" width="1.3" height="1.3" fill="#880000"/><rect x="443.8" y="476.2" width="1.0" height="1.0" fill="#880000"/><rect x="448.6" y="475.2" width="2.0" height="2.0" fill="#880000"/><rect x="444.6" y="465.2" width="1.6" height="1.6" fill="#880000"/><rect x="438.6" y="450.9" width="1.6" height="1.6" fill="#880000"/><rect x="434.4" y="459.6" width="1.0" height="1.0" fill="#880000"/><rect x="438.8" y="466.5" width="1.6" height="1.6" fill="#880000"/><rect x="444.3" y="465.0" width="1.3" height="1.3" fill="#880000"/><rect x="447.1" y="477.0" width="2.0" height="2.0" fill="#880000"/><rect x="438.3" y="450.0" width="1.3" height="1.3" fill="#880000"/><rect x="439.8" y="466.6" width="1.3" height="1.3" fill="#880000"/><rect x="444.8" y="472.7" width="1.0" height="1.0" fill="#880000"/><rect x="444.3" y="467.7" width="1.6" height="1.6" fill="#880000"/><rect x="443.4" y="465.6" width="1.3" height="1.3" fill="#880000"/><rect x="447.9" y="474.4" width="2.0" height="2.0" fill="#ffffff"/><rect x="443.0" y="471.4" width="1.3" height="1.3" fill="#ff6600"/><rect x="447.2" y="474.8" width="1.6" height="1.6" fill="#880000"/><rect x="447.6" y="480.4" width="1.3" height="1.3" fill="#880000"/><rect x="441.3" y="465.6" width="1.0" height="1.0" fill="#880000"/><rect x="446.3" y="474.4" width="1.0" height="1.0" fill="#880000"/><rect x="442.9" y="465.0" width="2.0" height="2.0" fill="#880000"/><rect x="447.5" y="472.2" width="1.3" height="1.3" fill="#880000"/><rect x="446.8" y="476.3" width="2.0" height="2.0" fill="#880000"/><rect x="434.7" y="448.1" width="1.3" height="1.3" fill="#ff6600"/><rect x="451.3" y="480.0" width="1.6" height="1.6" fill="#880000"/><rect x="443.6" y="470.4" width="2.0" height="2.0" fill="#ff6600"/><rect x="435.6" y="449.8" width="1.3" height="1.3" fill="#880000"/><rect x="450.7" y="476.8" width="1.0" height="1.0" fill="#880000"/><rect x="439.7" y="452.9" width="1.0" height="1.0" fill="#ff6600"/><rect x="449.6" y="475.1" width="1.3" height="1.3" fill="#ff6600"/><rect x="433.5" y="453.0" width="2.0" height="2.0" fill="#ff6600"/><rect x="440.9" y="460.3" width="1.6" height="1.6" fill="#880000"/><rect x="447.7" y="471.9" width="1.6" height="1.6" fill="#880000"/><rect x="448.0" y="477.2" width="2.0" height="2.0" fill="#880000"/><rect x="439.0" y="445.0" width="1.6" height="1.6" fill="#ff6600"/><rect x="442.4" y="471.6" width="1.6" height="1.6" fill="#880000"/><rect x="440.4" y="457.2" width="2.0" height="2.0" fill="#880000"/><rect x="440.3" y="455.7" width="1.3" height="1.3" fill="#880000"/><rect x="447.2" y="479.8" width="1.3" height="1.3" fill="#ffffff"/><rect x="442.9" y="470.9" width="2.0" height="2.0" fill="#880000"/><rect x="438.6" y="455.8" width="1.6" height="1.6" fill="#ffffff"/><rect x="442.2" y="463.3" width="1.0" height="1.0" fill="#880000"/><rect x="437.8" y="459.6" width="1.3" height="1.3" fill="#880000"/><rect x="439.6" y="453.2" width="2.0" height="2.0" fill="#880000"/><rect x="443.6" y="465.8" width="1.3" height="1.3" fill="#ffffff"/><rect x="436.9" y="453.4" width="1.3" height="1.3" fill="#880000"/><rect x="441.7" y="461.2" width="1.6" height="1.6" fill="#ff6600"/><rect x="433.8" y="447.1" width="2.0" height="2.0" fill="#ffffff"/><rect x="440.8" y="457.1" width="2.0" height="2.0" fill="#880000"/><rect x="448.9" y="473.2" width="2.0" height="2.0" fill="#ff6600"/><rect x="442.3" y="464.9" width="1.0" height="1.0" fill="#ffffff"/><rect x="441.5" y="466.3" width="1.3" height="1.3" fill="#880000"/><rect x="439.2" y="456.2" width="1.0" height="1.0" fill="#ffffff"/><rect x="535.1" y="323.9" width="1.3" height="1.3" fill="#880000"/><rect x="526.2" y="368.4" width="2.0" height="2.0" fill="#880000"/><rect x="533.9" y="341.7" width="1.6" height="1.6" fill="#880000"/><rect x="530.2" y="342.5" width="1.6" height="1.6" fill="#880000"/><rect x="516.0" y="354.9" width="1.6" height="1.6" fill="#880000"/><rect x="527.5" y="352.1" width="2.0" height="2.0" fill="#880000"/><rect x="529.1" y="345.0" width="1.0" height="1.0" fill="#880000"/><rect x="542.1" y="334.3" width="1.3" height="1.3" fill="#880000"/><rect x="531.2" y="367.9" width="1.3" height="1.3" fill="#880000"/><rect x="538.2" y="358.0" width="1.0" height="1.0" fill="#880000"/><rect x="531.4" y="355.0" width="1.3" height="1.3" fill="#880000"/><rect x="534.6" y="342.5" width="1.0" height="1.0" fill="#880000"/><rect x="542.1" y="319.6" width="1.0" height="1.0" fill="#880000"/><rect x="524.2" y="360.1" width="2.0" height="2.0" fill="#ffcc00"/><rect x="515.6" y="362.7" width="1.3" height="1.3" fill="#ffcc00"/><rect x="542.7" y="333.9" width="1.6" height="1.6" fill="#880000"/><rect x="516.6" y="358.2" width="1.3" height="1.3" fill="#ffcc00"/><rect x="537.4" y="335.8" width="1.3" height="1.3" fill="#880000"/><rect x="528.9" y="329.4" width="1.3" height="1.3" fill="#880000"/><rect x="518.7" y="351.8" width="1.3" height="1.3" fill="#ffcc00"/><rect x="534.9" y="363.9" width="1.6" height="1.6" fill="#ffcc00"/><rect x="535.5" y="346.0" width="2.0" height="2.0" fill="#ffcc00"/><rect x="535.9" y="327.5" width="1.3" height="1.3" fill="#880000"/><rect x="535.4" y="329.1" width="1.3" height="1.3" fill="#880000"/><rect x="532.5" y="329.4" width="1.3" height="1.3" fill="#ffcc00"/><rect x="530.8" y="340.1" width="1.6" height="1.6" fill="#880000"/><rect x="526.0" y="353.8" width="1.3" height="1.3" fill="#880000"/><rect x="513.9" y="345.4" width="2.0" height="2.0" fill="#880000"/><rect x="540.2" y="334.4" width="1.6" height="1.6" fill="#ffcc00"/><rect x="526.0" y="357.6" width="1.6" height="1.6" fill="#880000"/><rect x="530.1" y="349.1" width="2.0" height="2.0" fill="#880000"/><rect x="532.0" y="363.2" width="1.6" height="1.6" fill="#880000"/><rect x="537.5" y="349.5" width="2.0" height="2.0" fill="#880000"/><rect x="546.2" y="341.3" width="1.3" height="1.3" fill="#880000"/><rect x="529.7" y="368.5" width="1.6" height="1.6" fill="#880000"/><rect x="531.1" y="334.5" width="2.0" height="2.0" fill="#880000"/><rect x="526.5" y="352.2" width="2.0" height="2.0" fill="#ffcc00"/><rect x="541.1" y="326.0" width="2.0" height="2.0" fill="#880000"/><rect x="527.0" y="326.2" width="1.6" height="1.6" fill="#ffcc00"/><rect x="534.4" y="326.1" width="1.0" height="1.0" fill="#ffcc00"/><rect x="525.6" y="362.2" width="2.0" height="2.0" fill="#ffcc00"/><rect x="532.6" y="351.1" width="2.0" height="2.0" fill="#880000"/><rect x="527.0" y="350.8" width="1.0" height="1.0" fill="#ffcc00"/><rect x="539.2" y="341.1" width="1.6" height="1.6" fill="#880000"/><rect x="535.6" y="337.0" width="1.0" height="1.0" fill="#880000"/><rect x="539.5" y="359.1" width="1.6" height="1.6" fill="#ffcc00"/><rect x="534.9" y="319.0" width="1.3" height="1.3" fill="#ffcc00"/><rect x="537.9" y="337.1" width="1.6" height="1.6" fill="#880000"/><rect x="521.6" y="356.6" width="1.0" height="1.0" fill="#880000"/><rect x="557.3" y="294.6" width="1.3" height="1.3" fill="#880000"/><rect x="576.1" y="263.7" width="1.0" height="1.0" fill="#880000"/><rect x="547.9" y="304.9" width="2.0" height="2.0" fill="#ffcc00"/><rect x="559.2" y="290.3" width="1.6" height="1.6" fill="#880000"/><rect x="565.8" y="260.5" width="1.3" height="1.3" fill="#880000"/><rect x="567.3" y="279.9" width="1.3" height="1.3" fill="#ffcc00"/><rect x="574.2" y="258.2" width="2.0" height="2.0" fill="#ff8800"/><rect x="574.6" y="255.0" width="2.0" height="2.0" fill="#ffcc00"/><rect x="528.4" y="332.5" width="1.0" height="1.0" fill="#ff8800"/><rect x="538.4" y="337.1" width="1.6" height="1.6" fill="#ff8800"/><rect x="572.6" y="259.5" width="1.6" height="1.6" fill="#ffcc00"/><rect x="541.9" y="323.4" width="2.0" height="2.0" fill="#880000"/><rect x="557.9" y="300.5" width="1.3" height="1.3" fill="#880000"/><rect x="551.3" y="286.3" width="2.0" height="2.0" fill="#ffcc00"/><rect x="568.2" y="282.2" width="1.3" height="1.3" fill="#880000"/><rect x="553.1" y="303.8" width="1.6" height="1.6" fill="#ff8800"/><rect x="572.3" y="251.2" width="1.6" height="1.6" fill="#ff8800"/><rect x="574.2" y="276.2" width="2.0" height="2.0" fill="#ffcc00"/><rect x="572.0" y="279.2" width="2.0" height="2.0" fill="#ff8800"/><rect x="563.7" y="280.0" width="1.6" height="1.6" fill="#880000"/><rect x="558.5" y="293.9" width="2.0" height="2.0" fill="#880000"/><rect x="571.6" y="276.2" width="1.6" height="1.6" fill="#ff8800"/><rect x="563.9" y="287.6" width="2.0" height="2.0" fill="#ffcc00"/><rect x="547.0" y="316.1" width="2.0" height="2.0" fill="#880000"/><rect x="530.9" y="331.4" width="1.6" height="1.6" fill="#ff8800"/><rect x="537.8" y="323.5" width="1.6" height="1.6" fill="#880000"/><rect x="565.3" y="282.5" width="1.6" height="1.6" fill="#ffcc00"/><rect x="532.1" y="324.5" width="2.0" height="2.0" fill="#ffcc00"/><rect x="540.8" y="306.8" width="1.6" height="1.6" fill="#ff8800"/><rect x="542.3" y="325.9" width="1.6" height="1.6" fill="#ff8800"/><rect x="577.4" y="271.3" width="1.6" height="1.6" fill="#880000"/><rect x="555.7" y="297.9" width="1.6" height="1.6" fill="#880000"/><rect x="555.0" y="304.6" width="1.6" height="1.6" fill="#880000"/><rect x="557.6" y="286.5" width="2.0" height="2.0" fill="#880000"/><rect x="577.8" y="270.0" width="1.6" height="1.6" fill="#ff8800"/><rect x="574.3" y="263.6" width="1.0" height="1.0" fill="#880000"/><rect x="636.4" y="238.6" width="2.0" height="2.0" fill="#880000"/><rect x="586.0" y="251.6" width="1.0" height="1.0" fill="#880000"/><rect x="570.3" y="256.9" width="1.0" height="1.0" fill="#880000"/><rect x="575.2" y="267.5" width="1.0" height="1.0" fill="#880000"/><rect x="639.5" y="237.9" width="1.0" height="1.0" fill="#880000"/><rect x="578.3" y="255.8" width="1.3" height="1.3" fill="#880000"/><rect x="634.4" y="241.2" width="1.6" height="1.6" fill="#880000"/><rect x="578.0" y="250.7" width="1.6" height="1.6" fill="#880000"/><rect x="573.2" y="262.2" width="1.3" height="1.3" fill="#880000"/><rect x="635.8" y="228.6" width="1.6" height="1.6" fill="#ffffff"/><rect x="682.9" y="189.3" width="1.6" height="1.6" fill="#ffffff"/><rect x="692.0" y="186.4" width="2.0" height="2.0" fill="#880000"/><rect x="701.2" y="178.9" width="2.0" height="2.0" fill="#880000"/><rect x="690.3" y="184.4" width="1.6" height="1.6" fill="#880000"/><rect x="686.0" y="187.4" width="1.3" height="1.3" fill="#ffffff"/><rect x="644.8" y="201.7" width="1.6" height="1.6" fill="#ffffff"/><rect x="643.3" y="208.4" width="1.6" height="1.6" fill="#ffffff"/><rect x="646.2" y="199.5" width="1.3" height="1.3" fill="#ffffff"/><rect x="665.0" y="191.4" width="1.0" height="1.0" fill="#ffffff"/><rect x="645.5" y="199.9" width="1.3" height="1.3" fill="#ffffff"/><rect x="685.3" y="189.3" width="1.6" height="1.6" fill="#880000"/><rect x="652.4" y="198.3" width="2.0" height="2.0" fill="#ffffff"/><rect x="638.3" y="216.4" width="1.3" height="1.3" fill="#880000"/><rect x="689.3" y="185.7" width="1.3" height="1.3" fill="#880000"/><rect x="678.9" y="188.0" width="1.0" height="1.0" fill="#ffffff"/><rect x="247.5" y="448.4" width="2.0" height="2.0" fill="#880000"/><rect x="246.0" y="447.4" width="1.6" height="1.6" fill="#880000"/><rect x="243.5" y="455.9" width="2.0" height="2.0" fill="#880000"/><rect x="241.1" y="453.9" width="1.2" height="1.2" fill="#880000"/><rect x="246.2" y="457.7" width="1.6" height="1.6" fill="#880000"/><rect x="245.1" y="440.4" width="2.4" height="2.4" fill="#880000"/><rect x="243.4" y="456.0" width="2.0" height="2.0" fill="#880000"/><rect x="250.7" y="447.2" width="1.2" height="1.2" fill="#880000"/><rect x="254.8" y="454.2" width="2.0" height="2.0" fill="#880000"/><rect x="252.2" y="447.2" width="1.2" height="1.2" fill="#880000"/><rect x="253.1" y="452.8" width="2.4" height="2.4" fill="#880000"/><rect x="250.7" y="450.7" width="1.6" height="1.6" fill="#880000"/><rect x="250.7" y="445.2" width="1.2" height="1.2" fill="#880000"/><rect x="250.7" y="450.6" width="2.4" height="2.4" fill="#880000"/><rect x="238.4" y="454.5" width="2.4" height="2.4" fill="#880000"/><rect x="251.8" y="440.9" width="2.0" height="2.0" fill="#d3d3d3"/><rect x="241.8" y="454.3" width="2.0" height="2.0" fill="#880000"/><rect x="252.4" y="445.8" width="1.2" height="1.2" fill="#880000"/><rect x="249.0" y="446.1" width="1.6" height="1.6" fill="#880000"/><rect x="241.6" y="444.5" width="1.6" height="1.6" fill="#880000"/><rect x="252.5" y="456.6" width="2.4" height="2.4" fill="#880000"/><rect x="246.0" y="456.5" width="2.0" height="2.0" fill="#880000"/><rect x="251.4" y="441.7" width="1.2" height="1.2" fill="#880000"/><rect x="243.9" y="441.9" width="2.4" height="2.4" fill="#880000"/><rect x="254.5" y="453.9" width="2.0" height="2.0" fill="#880000"/><rect x="247.4" y="450.3" width="1.2" height="1.2" fill="#880000"/><rect x="242.3" y="453.0" width="2.4" height="2.4" fill="#880000"/><rect x="240.0" y="448.3" width="1.6" height="1.6" fill="#880000"/><rect x="244.7" y="454.2" width="1.2" height="1.2" fill="#880000"/><rect x="250.4" y="441.8" width="2.4" height="2.4" fill="#880000"/><rect x="246.3" y="452.3" width="2.4" height="2.4" fill="#880000"/><rect x="241.4" y="450.2" width="2.0" height="2.0" fill="#880000"/><rect x="242.4" y="453.0" width="2.4" height="2.4" fill="#880000"/><rect x="249.4" y="450.7" width="1.2" height="1.2" fill="#880000"/><rect x="255.1" y="452.8" width="2.4" height="2.4" fill="#880000"/><rect x="242.2" y="449.2" width="2.0" height="2.0" fill="#880000"/><rect x="238.0" y="451.2" width="1.2" height="1.2" fill="#880000"/><rect x="243.0" y="450.2" width="2.4" height="2.4" fill="#880000"/><rect x="251.6" y="443.7" width="1.6" height="1.6" fill="#880000"/><rect x="254.0" y="452.8" width="1.2" height="1.2" fill="#880000"/><rect x="249.8" y="448.0" width="1.2" height="1.2" fill="#d3d3d3"/><rect x="249.5" y="451.3" width="2.0" height="2.0" fill="#880000"/><rect x="249.7" y="454.5" width="1.2" height="1.2" fill="#880000"/><rect x="249.7" y="444.2" width="2.0" height="2.0" fill="#880000"/><rect x="241.0" y="450.1" width="2.0" height="2.0" fill="#880000"/><rect x="249.3" y="446.7" width="2.0" height="2.0" fill="#880000"/><rect x="250.9" y="450.1" width="1.2" height="1.2" fill="#880000"/><rect x="253.2" y="454.8" width="1.6" height="1.6" fill="#880000"/><rect x="251.7" y="446.4" width="1.2" height="1.2" fill="#880000"/><rect x="249.5" y="440.2" width="1.2" height="1.2" fill="#880000"/><rect x="248.0" y="450.2" width="1.6" height="1.6" fill="#880000"/><rect x="242.0" y="444.7" width="2.0" height="2.0" fill="#880000"/><rect x="245.1" y="450.6" width="1.2" height="1.2" fill="#880000"/><rect x="242.1" y="440.4" width="2.4" height="2.4" fill="#880000"/><rect x="247.8" y="459.4" width="1.2" height="1.2" fill="#880000"/><rect x="251.8" y="446.1" width="1.6" height="1.6" fill="#880000"/><rect x="254.7" y="448.9" width="1.6" height="1.6" fill="#880000"/><rect x="244.8" y="442.0" width="1.2" height="1.2" fill="#880000"/><rect x="253.8" y="448.6" width="1.6" height="1.6" fill="#880000"/><rect x="245.1" y="452.5" width="2.0" height="2.0" fill="#880000"/><rect x="247.9" y="458.7" width="1.6" height="1.6" fill="#880000"/><rect x="243.1" y="442.4" width="1.6" height="1.6" fill="#880000"/><rect x="245.4" y="451.7" width="1.6" height="1.6" fill="#d3d3d3"/><rect x="240.7" y="447.4" width="1.2" height="1.2" fill="#d3d3d3"/><rect x="252.9" y="445.6" width="2.4" height="2.4" fill="#880000"/><rect x="250.0" y="453.4" width="1.6" height="1.6" fill="#d3d3d3"/><rect x="242.9" y="447.9" width="2.4" height="2.4" fill="#880000"/><rect x="240.9" y="445.5" width="1.2" height="1.2" fill="#d3d3d3"/><rect x="247.1" y="453.4" width="1.2" height="1.2" fill="#d3d3d3"/><rect x="248.0" y="445.1" width="1.2" height="1.2" fill="#880000"/><rect x="248.0" y="447.8" width="2.0" height="2.0" fill="#880000"/><rect x="247.1" y="451.2" width="1.2" height="1.2" fill="#880000"/><rect x="245.9" y="452.0" width="1.2" height="1.2" fill="#880000"/><rect x="245.0" y="457.9" width="1.6" height="1.6" fill="#880000"/><rect x="241.6" y="443.3" width="1.6" height="1.6" fill="#880000"/><rect x="251.7" y="447.7" width="2.0" height="2.0" fill="#880000"/><rect x="240.7" y="447.2" width="2.0" height="2.0" fill="#880000"/><rect x="245.7" y="457.0" width="2.4" height="2.4" fill="#880000"/><rect x="248.2" y="454.0" width="2.4" height="2.4" fill="#880000"/><rect x="247.2" y="454.1" width="2.0" height="2.0" fill="#880000"/><rect x="249.6" y="457.5" width="2.4" height="2.4" fill="#880000"/><rect x="247.8" y="447.4" width="1.6" height="1.6" fill="#880000"/><rect x="246.9" y="459.5" width="1.2" height="1.2" fill="#880000"/><rect x="248.8" y="454.1" width="1.6" height="1.6" fill="#880000"/><rect x="254.5" y="451.3" width="1.6" height="1.6" fill="#880000"/><rect x="250.2" y="449.3" width="2.4" height="2.4" fill="#880000"/><rect x="254.5" y="454.3" width="2.4" height="2.4" fill="#880000"/><rect x="244.0" y="444.2" width="2.4" height="2.4" fill="#d3d3d3"/><rect x="248.1" y="450.0" width="2.4" height="2.4" fill="#880000"/><rect x="246.8" y="451.6" width="2.0" height="2.0" fill="#880000"/><rect x="244.7" y="439.3" width="2.4" height="2.4" fill="#880000"/><rect x="241.1" y="448.0" width="1.2" height="1.2" fill="#880000"/><rect x="250.4" y="454.3" width="1.6" height="1.6" fill="#880000"/><rect x="240.7" y="452.5" width="2.0" height="2.0" fill="#880000"/><rect x="247.6" y="454.4" width="1.6" height="1.6" fill="#880000"/><rect x="248.3" y="443.7" width="1.2" height="1.2" fill="#880000"/><rect x="251.8" y="453.7" width="2.4" height="2.4" fill="#880000"/><rect x="247.3" y="439.6" width="1.2" height="1.2" fill="#880000"/><rect x="248.1" y="440.2" width="2.4" height="2.4" fill="#880000"/><rect x="250.4" y="459.6" width="1.6" height="1.6" fill="#880000"/><rect x="254.1" y="454.9" width="2.0" height="2.0" fill="#880000"/><rect x="247.8" y="456.7" width="1.2" height="1.2" fill="#880000"/><rect x="250.2" y="439.9" width="2.4" height="2.4" fill="#880000"/><rect x="245.3" y="454.9" width="1.6" height="1.6" fill="#880000"/><rect x="249.5" y="445.7" width="1.2" height="1.2" fill="#880000"/><rect x="244.4" y="456.0" width="1.2" height="1.2" fill="#d3d3d3"/><rect x="248.6" y="443.6" width="1.6" height="1.6" fill="#d3d3d3"/><rect x="240.5" y="447.2" width="2.4" height="2.4" fill="#880000"/><rect x="238.4" y="450.9" width="2.4" height="2.4" fill="#880000"/><rect x="245.6" y="441.3" width="2.0" height="2.0" fill="#880000"/><rect x="252.2" y="448.4" width="2.4" height="2.4" fill="#880000"/><rect x="247.1" y="453.0" width="2.0" height="2.0" fill="#d3d3d3"/><rect x="247.0" y="459.6" width="1.6" height="1.6" fill="#880000"/><rect x="247.3" y="448.2" width="1.2" height="1.2" fill="#d3d3d3"/><rect x="250.8" y="445.5" width="1.2" height="1.2" fill="#880000"/><rect x="240.2" y="452.0" width="2.4" height="2.4" fill="#d3d3d3"/><rect x="243.6" y="446.8" width="1.2" height="1.2" fill="#880000"/><rect x="238.8" y="441.5" width="1.2" height="1.2" fill="#880000"/><rect x="248.3" y="453.8" width="1.2" height="1.2" fill="#d3d3d3"/><rect x="243.5" y="443.1" width="2.4" height="2.4" fill="#880000"/><rect x="248.7" y="441.2" width="1.2" height="1.2" fill="#880000"/><rect x="241.1" y="442.2" width="1.2" height="1.2" fill="#d3d3d3"/><rect x="250.0" y="450.7" width="1.2" height="1.2" fill="#880000"/><rect x="244.5" y="452.8" width="2.0" height="2.0" fill="#880000"/><rect x="249.6" y="450.1" width="1.2" height="1.2" fill="#880000"/><rect x="239.0" y="443.0" width="2.0" height="2.0" fill="#880000"/><rect x="252.9" y="457.1" width="2.0" height="2.0" fill="#880000"/><rect x="246.4" y="457.6" width="2.4" height="2.4" fill="#880000"/><rect x="249.3" y="440.4" width="1.2" height="1.2" fill="#880000"/><rect x="249.5" y="454.3" width="2.0" height="2.0" fill="#880000"/><rect x="245.7" y="453.4" width="2.0" height="2.0" fill="#880000"/><rect x="250.1" y="449.1" width="2.0" height="2.0" fill="#d3d3d3"/><rect x="246.6" y="446.7" width="2.4" height="2.4" fill="#880000"/><rect x="275.0" y="455.5" width="1.2" height="1.2" fill="#ff9600"/><rect x="241.8" y="464.0" width="2.4" height="2.4" fill="#ffffff"/><rect x="258.9" y="465.2" width="2.4" height="2.4" fill="#880000"/><rect x="251.9" y="462.4" width="1.6" height="1.6" fill="#ffc800"/><rect x="245.9" y="465.4" width="1.6" height="1.6" fill="#ffe600"/><rect x="242.0" y="466.0" width="2.4" height="2.4" fill="#d3d3d3"/><rect x="268.6" y="469.6" width="1.6" height="1.6" fill="#ffc800"/><rect x="266.5" y="462.8" width="1.6" height="1.6" fill="#ff9600"/><rect x="266.2" y="455.0" width="2.4" height="2.4" fill="#880000"/><rect x="287.0" y="456.3" width="2.0" height="2.0" fill="#dcff22"/><rect x="283.7" y="455.4" width="2.4" height="2.4" fill="#d3d3d3"/><rect x="255.1" y="455.2" width="2.4" height="2.4" fill="#d3d3d3"/><rect x="277.2" y="458.7" width="1.6" height="1.6" fill="#ff9600"/><rect x="252.3" y="470.0" width="1.6" height="1.6" fill="#d3d3d3"/><rect x="294.8" y="468.7" width="1.6" height="1.6" fill="#ffe600"/><rect x="263.1" y="458.4" width="1.2" height="1.2" fill="#ff9600"/><rect x="249.3" y="469.5" width="1.6" height="1.6" fill="#ffffff"/><rect x="280.7" y="469.1" width="2.0" height="2.0" fill="#ffffff"/><rect x="250.6" y="460.1" width="1.2" height="1.2" fill="#880000"/><rect x="254.5" y="458.9" width="1.2" height="1.2" fill="#880000"/><rect x="266.0" y="460.5" width="1.6" height="1.6" fill="#dcff22"/><rect x="290.7" y="455.6" width="1.6" height="1.6" fill="#880000"/><rect x="290.0" y="470.5" width="2.4" height="2.4" fill="#ffe600"/><rect x="258.8" y="468.1" width="1.6" height="1.6" fill="#dcff22"/><rect x="241.5" y="466.6" width="2.0" height="2.0" fill="#dcff22"/><rect x="256.8" y="461.0" width="2.0" height="2.0" fill="#dcff22"/><rect x="273.5" y="465.8" width="2.4" height="2.4" fill="#880000"/><rect x="269.4" y="458.1" width="2.0" height="2.0" fill="#ffffff"/><rect x="287.2" y="464.0" width="1.6" height="1.6" fill="#b4ff5a"/><rect x="249.5" y="458.0" width="2.4" height="2.4" fill="#880000"/><rect x="295.5" y="459.6" width="1.2" height="1.2" fill="#ff9600"/><rect x="274.8" y="452.1" width="2.0" height="2.0" fill="#d3d3d3"/><rect x="261.8" y="465.1" width="2.0" height="2.0" fill="#b4ff5a"/><rect x="262.1" y="462.7" width="2.4" height="2.4" fill="#ff9600"/><rect x="263.6" y="458.1" width="2.0" height="2.0" fill="#ffe600"/><rect x="285.4" y="468.1" width="2.4" height="2.4" fill="#880000"/><rect x="294.8" y="455.4" width="1.2" height="1.2" fill="#ffffff"/><rect x="289.0" y="468.3" width="1.6" height="1.6" fill="#ff9600"/><rect x="251.8" y="457.1" width="2.0" height="2.0" fill="#ffe600"/><rect x="293.4" y="468.6" width="2.0" height="2.0" fill="#dcff22"/><rect x="251.8" y="455.8" width="1.2" height="1.2" fill="#d3d3d3"/><rect x="260.8" y="472.1" width="2.4" height="2.4" fill="#d3d3d3"/><rect x="268.9" y="458.6" width="2.4" height="2.4" fill="#d3d3d3"/><rect x="249.2" y="460.7" width="2.0" height="2.0" fill="#ffc800"/><rect x="268.5" y="470.0" width="1.6" height="1.6" fill="#d3d3d3"/><rect x="266.8" y="460.0" width="1.2" height="1.2" fill="#ffc800"/><rect x="273.2" y="463.6" width="2.0" height="2.0" fill="#ffc800"/><rect x="290.2" y="458.0" width="2.0" height="2.0" fill="#d3d3d3"/><rect x="274.2" y="465.5" width="2.4" height="2.4" fill="#ff9600"/><rect x="271.5" y="465.6" width="2.0" height="2.0" fill="#d3d3d3"/><rect x="276.2" y="454.6" width="2.4" height="2.4" fill="#ff9600"/><rect x="248.0" y="464.9" width="1.6" height="1.6" fill="#b4ff5a"/><rect x="247.6" y="468.3" width="1.2" height="1.2" fill="#880000"/><rect x="275.4" y="454.1" width="2.0" height="2.0" fill="#880000"/><rect x="273.2" y="462.9" width="1.2" height="1.2" fill="#b4ff5a"/><rect x="271.8" y="461.2" width="2.0" height="2.0" fill="#d3d3d3"/><rect x="250.8" y="456.3" width="1.6" height="1.6" fill="#dcff22"/><rect x="297.5" y="452.9" width="1.6" height="1.6" fill="#dcff22"/><rect x="270.9" y="457.5" width="1.6" height="1.6" fill="#ffffff"/><rect x="280.5" y="459.4" width="2.4" height="2.4" fill="#ffe600"/><rect x="286.2" y="468.7" width="1.2" height="1.2" fill="#dcff22"/><rect x="262.3" y="470.1" width="1.6" height="1.6" fill="#ffffff"/><rect x="294.3" y="454.8" width="1.6" height="1.6" fill="#dcff22"/><rect x="247.0" y="463.5" width="2.4" height="2.4" fill="#d3d3d3"/><rect x="285.2" y="452.6" width="1.6" height="1.6" fill="#dcff22"/><rect x="289.0" y="469.1" width="2.4" height="2.4" fill="#880000"/><rect x="254.3" y="458.3" width="2.0" height="2.0" fill="#ffffff"/><rect x="292.1" y="462.6" width="2.4" height="2.4" fill="#ffe600"/><rect x="249.8" y="466.9" width="2.4" height="2.4" fill="#ffffff"/><rect x="280.0" y="470.3" width="2.0" height="2.0" fill="#880000"/><rect x="256.3" y="463.1" width="2.0" height="2.0" fill="#ffe600"/><rect x="278.4" y="458.2" width="1.2" height="1.2" fill="#b4ff5a"/><rect x="256.6" y="453.7" width="2.0" height="2.0" fill="#880000"/><rect x="294.2" y="463.6" width="2.0" height="2.0" fill="#ffe600"/><rect x="282.0" y="457.6" width="1.6" height="1.6" fill="#d3d3d3"/><rect x="276.5" y="467.6" width="2.4" height="2.4" fill="#ffc800"/><rect x="270.3" y="470.3" width="2.4" height="2.4" fill="#ff9600"/><rect x="270.6" y="458.8" width="1.2" height="1.2" fill="#dcff22"/><rect x="287.9" y="454.7" width="1.6" height="1.6" fill="#ff9600"/><rect x="281.4" y="453.2" width="1.6" height="1.6" fill="#ffc800"/><rect x="293.8" y="454.4" width="2.4" height="2.4" fill="#ffe600"/><rect x="272.2" y="462.6" width="2.4" height="2.4" fill="#ffc800"/><rect x="266.1" y="462.1" width="2.4" height="2.4" fill="#d3d3d3"/><rect x="260.7" y="461.4" width="2.0" height="2.0" fill="#d3d3d3"/><rect x="283.3" y="455.3" width="1.6" height="1.6" fill="#ffffff"/><rect x="282.0" y="458.9" width="1.6" height="1.6" fill="#ffc800"/><rect x="285.3" y="464.3" width="1.6" height="1.6" fill="#d3d3d3"/><rect x="242.2" y="467.3" width="1.2" height="1.2" fill="#b4ff5a"/><rect x="284.3" y="460.5" width="1.6" height="1.6" fill="#880000"/><rect x="274.9" y="453.8" width="2.0" height="2.0" fill="#ffc800"/><rect x="255.0" y="467.5" width="2.4" height="2.4" fill="#d3d3d3"/><rect x="277.3" y="452.5" width="1.6" height="1.6" fill="#ffe600"/><rect x="271.2" y="451.6" width="1.2" height="1.2" fill="#ffffff"/><rect x="268.8" y="454.0" width="1.6" height="1.6" fill="#b4ff5a"/><rect x="242.5" y="463.0" width="1.2" height="1.2" fill="#ffffff"/><rect x="289.9" y="468.1" width="1.6" height="1.6" fill="#ffc800"/><rect x="261.7" y="468.0" width="2.4" height="2.4" fill="#dcff22"/><rect x="287.6" y="452.8" width="2.0" height="2.0" fill="#d3d3d3"/><rect x="241.6" y="461.4" width="1.2" height="1.2" fill="#b4ff5a"/><rect x="287.4" y="466.7" width="2.4" height="2.4" fill="#ffc800"/><rect x="291.9" y="464.8" width="1.6" height="1.6" fill="#ffc800"/><rect x="286.8" y="458.0" width="1.6" height="1.6" fill="#d3d3d3"/><rect x="281.1" y="464.0" width="2.4" height="2.4" fill="#d3d3d3"/><rect x="267.6" y="473.9" width="2.4" height="2.4" fill="#ffffff"/><rect x="281.2" y="452.7" width="2.0" height="2.0" fill="#ffe600"/><rect x="248.4" y="462.1" width="2.0" height="2.0" fill="#ff9600"/><rect x="280.7" y="469.2" width="2.4" height="2.4" fill="#ffffff"/><rect x="287.6" y="467.4" width="1.2" height="1.2" fill="#b4ff5a"/><rect x="259.1" y="473.5" width="2.0" height="2.0" fill="#d3d3d3"/><rect x="287.4" y="467.9" width="1.2" height="1.2" fill="#dcff22"/><rect x="253.3" y="457.2" width="1.2" height="1.2" fill="#d3d3d3"/><rect x="262.1" y="453.1" width="2.0" height="2.0" fill="#ffffff"/><rect x="262.8" y="461.8" width="1.6" height="1.6" fill="#d3d3d3"/><rect x="274.3" y="452.3" width="1.2" height="1.2" fill="#b4ff5a"/><rect x="277.1" y="462.6" width="1.6" height="1.6" fill="#d3d3d3"/><rect x="279.7" y="457.7" width="1.2" height="1.2" fill="#ffe600"/><rect x="249.0" y="458.5" width="1.2" height="1.2" fill="#d3d3d3"/><rect x="282.0" y="462.1" width="1.2" height="1.2" fill="#b4ff5a"/><rect x="250.8" y="462.3" width="1.6" height="1.6" fill="#d3d3d3"/><rect x="283.5" y="451.7" width="2.0" height="2.0" fill="#b4ff5a"/><rect x="275.1" y="457.1" width="2.4" height="2.4" fill="#ffc800"/><rect x="294.9" y="475.1" width="2.4" height="2.4" fill="#ff9600"/><rect x="259.2" y="472.3" width="1.2" height="1.2" fill="#ff9600"/><rect x="289.7" y="454.3" width="1.2" height="1.2" fill="#ffc800"/><rect x="285.1" y="461.1" width="1.2" height="1.2" fill="#ffe600"/><rect x="255.4" y="454.2" width="2.0" height="2.0" fill="#ff9600"/><rect x="258.9" y="459.7" width="2.4" height="2.4" fill="#ffe600"/><rect x="268.9" y="451.6" width="1.6" height="1.6" fill="#880000"/><rect x="293.1" y="474.3" width="1.6" height="1.6" fill="#ff9600"/><rect x="268.6" y="474.8" width="2.4" height="2.4" fill="#d3d3d3"/><rect x="257.2" y="460.6" width="1.2" height="1.2" fill="#ff9600"/><rect x="278.2" y="466.9" width="1.2" height="1.2" fill="#ffffff"/><rect x="267.8" y="471.9" width="2.0" height="2.0" fill="#d3d3d3"/><rect x="278.5" y="453.1" width="1.2" height="1.2" fill="#ffffff"/><rect x="290.7" y="473.5" width="1.2" height="1.2" fill="#d3d3d3"/><rect x="274.0" y="473.0" width="1.6" height="1.6" fill="#b4ff5a"/><rect x="288.4" y="472.8" width="1.2" height="1.2" fill="#ff9600"/><rect x="275.4" y="467.2" width="1.2" height="1.2" fill="#ffffff"/><rect x="270.0" y="470.9" width="1.6" height="1.6" fill="#880000"/><rect x="268.8" y="451.9" width="2.0" height="2.0" fill="#880000"/><rect x="275.5" y="469.9" width="1.6" height="1.6" fill="#880000"/><rect x="275.3" y="466.0" width="2.4" height="2.4" fill="#880000"/><rect x="241.6" y="463.6" width="2.4" height="2.4" fill="#d3d3d3"/><rect x="266.2" y="458.2" width="2.4" height="2.4" fill="#ffc800"/><rect x="271.4" y="467.9" width="1.6" height="1.6" fill="#ffffff"/><rect x="263.9" y="464.3" width="1.2" height="1.2" fill="#ff9600"/><rect x="255.8" y="455.7" width="1.2" height="1.2" fill="#d3d3d3"/><rect x="284.1" y="451.7" width="2.4" height="2.4" fill="#ffffff"/><rect x="289.5" y="459.2" width="1.2" height="1.2" fill="#ff9600"/><rect x="260.4" y="453.7" width="2.0" height="2.0" fill="#ffe600"/><rect x="251.4" y="471.0" width="1.6" height="1.6" fill="#ffc800"/><rect x="270.2" y="470.4" width="1.6" height="1.6" fill="#ff9600"/><rect x="268.1" y="454.2" width="1.6" height="1.6" fill="#dcff22"/><rect x="257.0" y="465.0" width="2.0" height="2.0" fill="#b4ff5a"/><rect x="274.3" y="464.7" width="1.2" height="1.2" fill="#ff9600"/><rect x="292.2" y="466.4" width="2.0" height="2.0" fill="#ff9600"/><rect x="286.1" y="466.3" width="1.6" height="1.6" fill="#ff9600"/><rect x="283.1" y="452.5" width="1.2" height="1.2" fill="#b4ff5a"/><rect x="263.1" y="458.3" width="1.2" height="1.2" fill="#b4ff5a"/><rect x="258.9" y="453.8" width="1.2" height="1.2" fill="#ffe600"/><rect x="294.6" y="462.2" width="2.0" height="2.0" fill="#b4ff5a"/><rect x="291.9" y="454.6" width="2.4" height="2.4" fill="#880000"/><rect x="275.0" y="454.6" width="2.4" height="2.4" fill="#dcff22"/><rect x="276.2" y="466.2" width="1.2" height="1.2" fill="#ffffff"/><rect x="282.3" y="469.1" width="2.0" height="2.0" fill="#b4ff5a"/><rect x="273.6" y="460.5" width="2.0" height="2.0" fill="#ffc800"/><rect x="292.7" y="452.6" width="1.6" height="1.6" fill="#b4ff5a"/><rect x="266.2" y="473.3" width="2.4" height="2.4" fill="#dcff22"/><rect x="283.4" y="454.8" width="2.0" height="2.0" fill="#ffffff"/><rect x="252.0" y="462.1" width="2.4" height="2.4" fill="#ffc800"/><rect x="257.8" y="452.8" width="2.4" height="2.4" fill="#ffc800"/><rect x="275.2" y="469.3" width="2.0" height="2.0" fill="#d3d3d3"/><rect x="257.1" y="454.9" width="2.4" height="2.4" fill="#b4ff5a"/><rect x="269.8" y="465.8" width="2.4" height="2.4" fill="#ffffff"/><rect x="287.0" y="462.3" width="2.4" height="2.4" fill="#ffc800"/><rect x="276.5" y="457.3" width="2.4" height="2.4" fill="#ffffff"/><rect x="288.5" y="453.4" width="1.2" height="1.2" fill="#dcff22"/><rect x="289.5" y="460.8" width="1.6" height="1.6" fill="#ffe600"/><rect x="266.6" y="455.2" width="1.2" height="1.2" fill="#880000"/><rect x="271.9" y="473.1" width="2.0" height="2.0" fill="#ffc800"/><rect x="272.6" y="458.1" width="2.4" height="2.4" fill="#b4ff5a"/><rect x="268.0" y="458.2" width="1.6" height="1.6" fill="#880000"/><rect x="246.7" y="465.4" width="1.2" height="1.2" fill="#880000"/><rect x="285.9" y="461.7" width="1.2" height="1.2" fill="#dcff22"/><rect x="277.7" y="470.4" width="1.6" height="1.6" fill="#ffffff"/><rect x="261.1" y="460.5" width="1.2" height="1.2" fill="#ffffff"/><rect x="256.4" y="466.8" width="2.4" height="2.4" fill="#880000"/><rect x="282.4" y="466.7" width="1.2" height="1.2" fill="#ffffff"/><rect x="251.9" y="462.4" width="2.0" height="2.0" fill="#ffc800"/><rect x="293.2" y="470.4" width="2.4" height="2.4" fill="#ffc800"/><rect x="257.9" y="453.0" width="1.2" height="1.2" fill="#dcff22"/><rect x="295.3" y="469.2" width="1.6" height="1.6" fill="#880000"/><rect x="259.7" y="452.8" width="2.4" height="2.4" fill="#d3d3d3"/><rect x="269.2" y="474.8" width="1.6" height="1.6" fill="#dcff22"/><rect x="270.9" y="454.1" width="1.6" height="1.6" fill="#ffe600"/><rect x="267.7" y="471.2" width="1.2" height="1.2" fill="#ffc800"/><rect x="262.5" y="468.2" width="2.4" height="2.4" fill="#880000"/><rect x="294.8" y="472.9" width="1.6" height="1.6" fill="#ff9600"/><rect x="242.5" y="465.9" width="1.6" height="1.6" fill="#b4ff5a"/><rect x="296.9" y="451.5" width="2.0" height="2.0" fill="#dcff22"/><rect x="289.4" y="462.9" width="2.4" height="2.4" fill="#ffe600"/><rect x="290.6" y="474.8" width="1.2" height="1.2" fill="#d3d3d3"/><rect x="287.8" y="465.9" width="1.6" height="1.6" fill="#d3d3d3"/><rect x="272.5" y="458.4" width="1.6" height="1.6" fill="#ffc800"/><rect x="294.0" y="457.4" width="2.0" height="2.0" fill="#ffc800"/><rect x="264.3" y="473.3" width="2.0" height="2.0" fill="#d3d3d3"/><rect x="273.9" y="454.8" width="1.2" height="1.2" fill="#ffc800"/><rect x="245.3" y="465.9" width="2.0" height="2.0" fill="#d3d3d3"/><rect x="267.3" y="470.6" width="1.2" height="1.2" fill="#ffc800"/><rect x="285.5" y="452.4" width="2.0" height="2.0" fill="#d3d3d3"/><rect x="280.2" y="462.5" width="1.2" height="1.2" fill="#dcff22"/><rect x="275.8" y="463.4" width="1.2" height="1.2" fill="#ff9600"/><rect x="258.8" y="473.9" width="2.4" height="2.4" fill="#dcff22"/><rect x="257.2" y="468.2" width="2.0" height="2.0" fill="#ffe600"/><rect x="247.0" y="469.9" width="1.6" height="1.6" fill="#b4ff5a"/><rect x="297.3" y="455.5" width="2.0" height="2.0" fill="#ff9600"/><rect x="249.8" y="456.0" width="1.6" height="1.6" fill="#880000"/><rect x="258.5" y="465.8" width="1.2" height="1.2" fill="#d3d3d3"/><rect x="256.9" y="460.2" width="1.2" height="1.2" fill="#b4ff5a"/><rect x="285.7" y="465.6" width="2.0" height="2.0" fill="#ffe600"/><rect x="295.8" y="454.3" width="1.2" height="1.2" fill="#ff9600"/><rect x="250.5" y="458.7" width="2.0" height="2.0" fill="#ffc800"/><rect x="293.0" y="462.3" width="1.2" height="1.2" fill="#b4ff5a"/><rect x="263.0" y="452.4" width="1.2" height="1.2" fill="#dcff22"/><rect x="244.9" y="459.5" width="1.6" height="1.6" fill="#ff9600"/><rect x="278.4" y="469.8" width="2.0" height="2.0" fill="#ffffff"/><rect x="258.7" y="459.2" width="1.6" height="1.6" fill="#ffe600"/><rect x="257.1" y="453.4" width="1.6" height="1.6" fill="#b4ff5a"/><rect x="270.7" y="462.0" width="2.4" height="2.4" fill="#b4ff5a"/><rect x="284.2" y="454.3" width="2.4" height="2.4" fill="#dcff22"/><rect x="278.6" y="462.6" width="1.6" height="1.6" fill="#d3d3d3"/><rect x="272.8" y="468.5" width="2.4" height="2.4" fill="#d3d3d3"/><rect x="256.6" y="453.6" width="2.0" height="2.0" fill="#ff9600"/><rect x="255.7" y="454.0" width="2.0" height="2.0" fill="#ff9600"/><rect x="262.9" y="454.5" width="2.0" height="2.0" fill="#ff9600"/><rect x="273.2" y="462.5" width="1.6" height="1.6" fill="#ffffff"/><rect x="246.1" y="469.1" width="1.2" height="1.2" fill="#b4ff5a"/><rect x="273.1" y="469.2" width="1.2" height="1.2" fill="#880000"/><rect x="271.6" y="470.9" width="1.6" height="1.6" fill="#ff9600"/><rect x="279.7" y="461.4" width="1.2" height="1.2" fill="#ff9600"/><rect x="296.3" y="454.2" width="2.4" height="2.4" fill="#ffe600"/><rect x="264.6" y="462.0" width="2.4" height="2.4" fill="#d3d3d3"/><rect x="258.6" y="474.1" width="1.6" height="1.6" fill="#880000"/><rect x="261.8" y="456.1" width="1.6" height="1.6" fill="#d3d3d3"/><rect x="291.5" y="463.9" width="2.0" height="2.0" fill="#ffc800"/><rect x="287.2" y="455.5" width="1.6" height="1.6" fill="#ff9600"/><rect x="267.3" y="452.3" width="2.4" height="2.4" fill="#880000"/><rect x="259.0" y="471.4" width="2.4" height="2.4" fill="#ffc800"/><rect x="290.8" y="474.9" width="1.2" height="1.2" fill="#ffe600"/><rect x="240.9" y="463.1" width="1.2" height="1.2" fill="#dcff22"/><rect x="264.0" y="471.2" width="1.2" height="1.2" fill="#ffc800"/><rect x="261.6" y="471.6" width="1.2" height="1.2" fill="#dcff22"/><rect x="287.2" y="446.0" width="1.6" height="1.6" fill="#880000"/><rect x="290.9" y="447.8" width="2.4" height="2.4" fill="#880000"/><rect x="284.5" y="450.6" width="1.6" height="1.6" fill="#880000"/><rect x="281.7" y="451.0" width="1.2" height="1.2" fill="#880000"/><rect x="275.1" y="444.9" width="1.6" height="1.6" fill="#880000"/><rect x="264.2" y="447.0" width="1.2" height="1.2" fill="#880000"/><rect x="277.6" y="448.5" width="1.2" height="1.2" fill="#880000"/><rect x="272.8" y="446.4" width="2.4" height="2.4" fill="#880000"/><rect x="273.8" y="446.0" width="2.4" height="2.4" fill="#880000"/><rect x="289.3" y="447.3" width="1.2" height="1.2" fill="#880000"/><rect x="281.5" y="448.5" width="2.4" height="2.4" fill="#880000"/><rect x="256.8" y="444.3" width="1.2" height="1.2" fill="#880000"/><rect x="281.9" y="450.5" width="1.6" height="1.6" fill="#880000"/><rect x="281.1" y="444.2" width="2.4" height="2.4" fill="#880000"/><rect x="272.7" y="445.7" width="2.4" height="2.4" fill="#880000"/><rect x="270.9" y="450.9" width="2.0" height="2.0" fill="#880000"/><rect x="278.9" y="446.1" width="1.6" height="1.6" fill="#880000"/><rect x="297.7" y="448.0" width="1.2" height="1.2" fill="#880000"/><rect x="212.6" y="461.7" width="2.0" height="2.0" fill="#880000"/><rect x="223.3" y="454.3" width="1.6" height="1.6" fill="#ffffff"/><rect x="231.4" y="461.5" width="1.6" height="1.6" fill="#ffc800"/><rect x="220.8" y="458.3" width="1.2" height="1.2" fill="#ffffff"/><rect x="227.1" y="458.9" width="2.0" height="2.0" fill="#880000"/><rect x="225.9" y="457.0" width="1.2" height="1.2" fill="#ff6600"/><rect x="225.7" y="461.8" width="1.6" height="1.6" fill="#880000"/><rect x="210.7" y="452.3" width="1.6" height="1.6" fill="#ffe600"/><rect x="220.3" y="461.8" width="2.0" height="2.0" fill="#880000"/><rect x="206.0" y="459.5" width="1.6" height="1.6" fill="#880000"/><rect x="236.3" y="459.9" width="1.2" height="1.2" fill="#ffc800"/><rect x="203.8" y="461.6" width="2.4" height="2.4" fill="#ffe600"/><rect x="230.3" y="457.0" width="2.4" height="2.4" fill="#ffc800"/><rect x="213.2" y="457.2" width="1.6" height="1.6" fill="#ffc800"/><rect x="226.8" y="456.4" width="1.6" height="1.6" fill="#ffffff"/><rect x="229.6" y="460.8" width="1.2" height="1.2" fill="#ff6600"/><rect x="214.0" y="459.7" width="2.4" height="2.4" fill="#880000"/><rect x="212.0" y="452.2" width="1.2" height="1.2" fill="#ffc800"/><rect x="219.4" y="461.3" width="2.0" height="2.0" fill="#ffffff"/><rect x="225.5" y="454.7" width="1.2" height="1.2" fill="#880000"/><rect x="232.9" y="457.9" width="1.2" height="1.2" fill="#ff6600"/><rect x="214.8" y="458.0" width="1.2" height="1.2" fill="#880000"/><rect x="209.2" y="457.2" width="2.0" height="2.0" fill="#ff6600"/><rect x="216.9" y="458.8" width="1.2" height="1.2" fill="#ff6600"/><rect x="203.2" y="458.9" width="2.4" height="2.4" fill="#880000"/><rect x="226.5" y="460.4" width="2.4" height="2.4" fill="#880000"/><rect x="210.1" y="453.6" width="2.4" height="2.4" fill="#ffe600"/><rect x="208.3" y="455.5" width="2.4" height="2.4" fill="#ffffff"/><rect x="218.2" y="454.3" width="1.6" height="1.6" fill="#880000"/><rect x="237.6" y="452.9" width="1.6" height="1.6" fill="#ff6600"/><rect x="218.5" y="457.7" width="1.2" height="1.2" fill="#ff6600"/><rect x="236.9" y="457.4" width="1.6" height="1.6" fill="#880000"/><rect x="205.9" y="452.7" width="2.4" height="2.4" fill="#ffffff"/><rect x="235.8" y="461.2" width="2.0" height="2.0" fill="#ffc800"/><rect x="208.9" y="458.0" width="1.2" height="1.2" fill="#880000"/><rect x="213.0" y="454.2" width="1.6" height="1.6" fill="#880000"/><rect x="235.2" y="457.5" width="1.6" height="1.6" fill="#880000"/><rect x="233.5" y="461.1" width="1.2" height="1.2" fill="#ffe600"/><rect x="201.4" y="461.1" width="2.0" height="2.0" fill="#ffc800"/><rect x="227.9" y="454.2" width="2.4" height="2.4" fill="#ff6600"/><rect x="233.5" y="461.1" width="2.4" height="2.4" fill="#ffe600"/><rect x="218.4" y="452.2" width="2.0" height="2.0" fill="#ffe600"/><rect x="206.3" y="457.9" width="1.6" height="1.6" fill="#ffffff"/><rect x="201.5" y="458.2" width="2.4" height="2.4" fill="#880000"/><rect x="219.0" y="454.5" width="2.4" height="2.4" fill="#ffffff"/><rect x="227.0" y="456.6" width="2.4" height="2.4" fill="#ffffff"/><rect x="220.4" y="452.6" width="1.2" height="1.2" fill="#ff6600"/><rect x="220.8" y="456.3" width="1.2" height="1.2" fill="#880000"/><rect x="221.2" y="456.0" width="1.6" height="1.6" fill="#880000"/><rect x="223.2" y="455.9" width="2.4" height="2.4" fill="#ffe600"/><rect x="226.7" y="458.4" width="2.4" height="2.4" fill="#880000"/><rect x="221.8" y="454.1" width="2.0" height="2.0" fill="#ffe600"/><rect x="217.9" y="460.5" width="2.4" height="2.4" fill="#880000"/><rect x="207.2" y="460.8" width="2.4" height="2.4" fill="#ffc800"/><rect x="233.2" y="452.3" width="2.4" height="2.4" fill="#ff6600"/><rect x="211.5" y="452.4" width="1.6" height="1.6" fill="#ffe600"/><rect x="214.1" y="453.3" width="1.2" height="1.2" fill="#ffffff"/></g>
</g>
<rect x="129.5" y="162.5" width="711.0" height="698.0" fill="none" stroke="#000" stroke-width="1.1"/>
<line x1="112.4" y1="177.2" x2="129.5" y2="177.2" stroke="#000" stroke-width="1.1"/>
<text x="98.4" y="185.7" font-family="Liberation Sans, sans-serif" font-size="23.3" text-anchor="end">45°N</text>
<line x1="112.4" y1="270.9" x2="129.5" y2="270.9" stroke="#000" stroke-width="1.1"/>
<text x="98.4" y="279.4" font-family="Liberation Sans, sans-serif" font-size="23.3" text-anchor="end">40°N</text>
<line x1="112.4" y1="364.6" x2="129.5" y2="364.6" stroke="#000" stroke-width="1.1"/>
<text x="98.4" y="373.1" font-family="Liberation Sans, sans-serif" font-size="23.3" text-anchor="end">35°N</text>
<line x1="112.4" y1="458.3" x2="129.5" y2="458.3" stroke="#000" stroke-width="1.1"/>
<text x="98.4" y="466.8" font-family="Liberation Sans, sans-serif" font-size="23.3" text-anchor="end">30°N</text>
<line x1="112.4" y1="552.0" x2="129.5" y2="552.0" stroke="#000" stroke-width="1.1"/>
<text x="98.4" y="560.5" font-family="Liberation Sans, sans-serif" font-size="23.3" text-anchor="end">25°N</text>
<line x1="112.4" y1="645.7" x2="129.5" y2="645.7" stroke="#000" stroke-width="1.1"/>
<text x="98.4" y="654.2" font-family="Liberation Sans, sans-serif" font-size="23.3" text-anchor="end">20°N</text>
<line x1="112.4" y1="739.4" x2="129.5" y2="739.4" stroke="#000" stroke-width="1.1"/>
<text x="98.4" y="747.9" font-family="Liberation Sans, sans-serif" font-size="23.3" text-anchor="end">15°N</text>
<line x1="112.4" y1="833.1" x2="129.5" y2="833.1" stroke="#000" stroke-width="1.1"/>
<text x="98.4" y="841.6" font-family="Liberation Sans, sans-serif" font-size="23.3" text-anchor="end">10°N</text>
<line x1="185.2" y1="860.5" x2="185.2" y2="876.5" stroke="#000" stroke-width="1.1"/>
<text x="184.6" y="910.3" font-family="Liberation Sans, sans-serif" font-size="23.3" text-anchor="middle">95°W</text>
<line x1="279.2" y1="860.5" x2="279.2" y2="876.5" stroke="#000" stroke-width="1.1"/>
<text x="278.6" y="910.3" font-family="Liberation Sans, sans-serif" font-size="23.3" text-anchor="middle">90°W</text>
<line x1="373.2" y1="860.5" x2="373.2" y2="876.5" stroke="#000" stroke-width="1.1"/>
<text x="372.6" y="910.3" font-family="Liberation Sans, sans-serif" font-size="23.3" text-anchor="middle">85°W</text>
<line x1="467.2" y1="860.5" x2="467.2" y2="876.5" stroke="#000" stroke-width="1.1"/>
<text x="466.6" y="910.3" font-family="Liberation Sans, sans-serif" font-size="23.3" text-anchor="middle">80°W</text>
<line x1="561.2" y1="860.5" x2="561.2" y2="876.5" stroke="#000" stroke-width="1.1"/>
<text x="560.6" y="910.3" font-family="Liberation Sans, sans-serif" font-size="23.3" text-anchor="middle">75°W</text>
<line x1="655.2" y1="860.5" x2="655.2" y2="876.5" stroke="#000" stroke-width="1.1"/>
<text x="654.6" y="910.3" font-family="Liberation Sans, sans-serif" font-size="23.3" text-anchor="middle">70°W</text>
<line x1="749.2" y1="860.5" x2="749.2" y2="876.5" stroke="#000" stroke-width="1.1"/>
<text x="748.6" y="910.3" font-family="Liberation Sans, sans-serif" font-size="23.3" text-anchor="middle">65°W</text>
<text x="484.4" y="945.1" font-family="Liberation Sans, sans-serif" font-size="23" text-anchor="middle">Longitude</text>
<text transform="translate(41.4,511.3) rotate(-90)" x="0" y="0" font-family="Liberation Sans, sans-serif" font-size="23.15" text-anchor="middle">Latitude</text>
<text x="164" y="133.2" font-family="Liberation Sans, sans-serif" font-size="25">2021030601</text>
<text x="656.8" y="128.4" font-family="Liberation Sans, sans-serif" font-size="25.5">Elevation (m)</text>
<rect x="879" y="169.00" width="42" height="31.39" fill="#880000"/>
<rect x="879" y="200.09" width="42" height="31.39" fill="#b40000"/>
<rect x="879" y="231.18" width="42" height="31.39" fill="#e20000"/>
<rect x="879" y="262.27" width="42" height="31.39" fill="#ff1400"/>
<rect x="879" y="293.36" width="42" height="31.39" fill="#ff4400"/>
<rect x="879" y="324.45" width="42" height="31.39" fill="#ff7000"/>
<rect x="879" y="355.55" width="42" height="31.39" fill="#ff9c00"/>
<rect x="879" y="386.64" width="42" height="31.39" fill="#ffc800"/>
<rect x="879" y="417.73" width="42" height="31.39" fill="#fff400"/>
<rect x="879" y="448.82" width="42" height="31.39" fill="#dcff22"/>
<rect x="879" y="479.91" width="42" height="31.39" fill="#a8ff56"/>
<rect x="879" y="511.00" width="42" height="31.39" fill="#80ff80"/>
<rect x="879" y="542.09" width="42" height="31.39" fill="#56ffa8"/>
<rect x="879" y="573.18" width="42" height="31.39" fill="#22ffdc"/>
<rect x="879" y="604.27" width="42" height="31.39" fill="#00f4ff"/>
<rect x="879" y="635.36" width="42" height="31.39" fill="#00c8ff"/>
<rect x="879" y="666.45" width="42" height="31.39" fill="#009cff"/>
<rect x="879" y="697.55" width="42" height="31.39" fill="#0070ff"/>
<rect x="879" y="728.64" width="42" height="31.39" fill="#0044ff"/>
<rect x="879" y="759.73" width="42" height="31.39" fill="#0014ff"/>
<rect x="879" y="790.82" width="42" height="31.39" fill="#0000dc"/>
<rect x="879" y="821.91" width="42" height="31.39" fill="#0000a0"/>
<line x1="879" y1="200.5" x2="921" y2="200.5" stroke="#222" stroke-width="1" stroke-dasharray="3,1" shape-rendering="crispEdges"/>
<line x1="879" y1="231.5" x2="921" y2="231.5" stroke="#222" stroke-width="1" stroke-dasharray="3,1" shape-rendering="crispEdges"/>
<line x1="879" y1="262.5" x2="921" y2="262.5" stroke="#222" stroke-width="1" stroke-dasharray="3,1" shape-rendering="crispEdges"/>
<line x1="879" y1="293.5" x2="921" y2="293.5" stroke="#222" stroke-width="1" stroke-dasharray="3,1" shape-rendering="crispEdges"/>
<line x1="879" y1="324.5" x2="921" y2="324.5" stroke="#222" stroke-width="1" stroke-dasharray="3,1" shape-rendering="crispEdges"/>
<line x1="879" y1="356.5" x2="921" y2="356.5" stroke="#222" stroke-width="1" stroke-dasharray="3,1" shape-rendering="crispEdges"/>
<line x1="879" y1="387.5" x2="921" y2="387.5" stroke="#222" stroke-width="1" stroke-dasharray="3,1" shape-rendering="crispEdges"/>
<line x1="879" y1="418.5" x2="921" y2="418.5" stroke="#222" stroke-width="1" stroke-dasharray="3,1" shape-rendering="crispEdges"/>
<line x1="879" y1="449.5" x2="921" y2="449.5" stroke="#222" stroke-width="1" stroke-dasharray="3,1" shape-rendering="crispEdges"/>
<line x1="879" y1="480.5" x2="921" y2="480.5" stroke="#222" stroke-width="1" stroke-dasharray="3,1" shape-rendering="crispEdges"/>
<line x1="879" y1="511.5" x2="921" y2="511.5" stroke="#222" stroke-width="1" stroke-dasharray="3,1" shape-rendering="crispEdges"/>
<line x1="879" y1="542.5" x2="921" y2="542.5" stroke="#222" stroke-width="1" stroke-dasharray="3,1" shape-rendering="crispEdges"/>
<line x1="879" y1="573.5" x2="921" y2="573.5" stroke="#222" stroke-width="1" stroke-dasharray="3,1" shape-rendering="crispEdges"/>
<line x1="879" y1="604.5" x2="921" y2="604.5" stroke="#222" stroke-width="1" stroke-dasharray="3,1" shape-rendering="crispEdges"/>
<line x1="879" y1="635.5" x2="921" y2="635.5" stroke="#222" stroke-width="1" stroke-dasharray="3,1" shape-rendering="crispEdges"/>
<line x1="879" y1="666.5" x2="921" y2="666.5" stroke="#222" stroke-width="1" stroke-dasharray="3,1" shape-rendering="crispEdges"/>
<line x1="879" y1="698.5" x2="921" y2="698.5" stroke="#222" stroke-width="1" stroke-dasharray="3,1" shape-rendering="crispEdges"/>
<line x1="879" y1="729.5" x2="921" y2="729.5" stroke="#222" stroke-width="1" stroke-dasharray="3,1" shape-rendering="crispEdges"/>
<line x1="879" y1="760.5" x2="921" y2="760.5" stroke="#222" stroke-width="1" stroke-dasharray="3,1" shape-rendering="crispEdges"/>
<line x1="879" y1="791.5" x2="921" y2="791.5" stroke="#222" stroke-width="1" stroke-dasharray="3,1" shape-rendering="crispEdges"/>
<line x1="879" y1="822.5" x2="921" y2="822.5" stroke="#222" stroke-width="1" stroke-dasharray="3,1" shape-rendering="crispEdges"/>
<rect x="879.5" y="169.5" width="41" height="683" fill="none" stroke="#000" stroke-width="1"/>
<text x="960" y="211.8" font-family="Liberation Sans, sans-serif" font-size="33" text-anchor="middle">2</text>
<text x="960" y="274.0" font-family="Liberation Sans, sans-serif" font-size="33" text-anchor="middle">1.6</text>
<text x="960" y="336.2" font-family="Liberation Sans, sans-serif" font-size="33" text-anchor="middle">1.2</text>
<text x="960" y="398.3" font-family="Liberation Sans, sans-serif" font-size="33" text-anchor="middle">0.8</text>
<text x="960" y="460.5" font-family="Liberation Sans, sans-serif" font-size="33" text-anchor="middle">0.4</text>
<text x="960" y="522.7" font-family="Liberation Sans, sans-serif" font-size="33" text-anchor="middle">0</text>
<text x="960" y="584.9" font-family="Liberation Sans, sans-serif" font-size="33" text-anchor="middle">-0.4</text>
<text x="960" y="647.1" font-family="Liberation Sans, sans-serif" font-size="33" text-anchor="middle">-0.8</text>
<text x="960" y="709.2" font-family="Liberation Sans, sans-serif" font-size="33" text-anchor="middle">-1.2</text>
<text x="960" y="771.4" font-family="Liberation Sans, sans-serif" font-size="33" text-anchor="middle">-1.6</text>
<text x="960" y="833.6" font-family="Liberation Sans, sans-serif" font-size="33" text-anchor="middle">-2</text>
</svg>
</body></html>
